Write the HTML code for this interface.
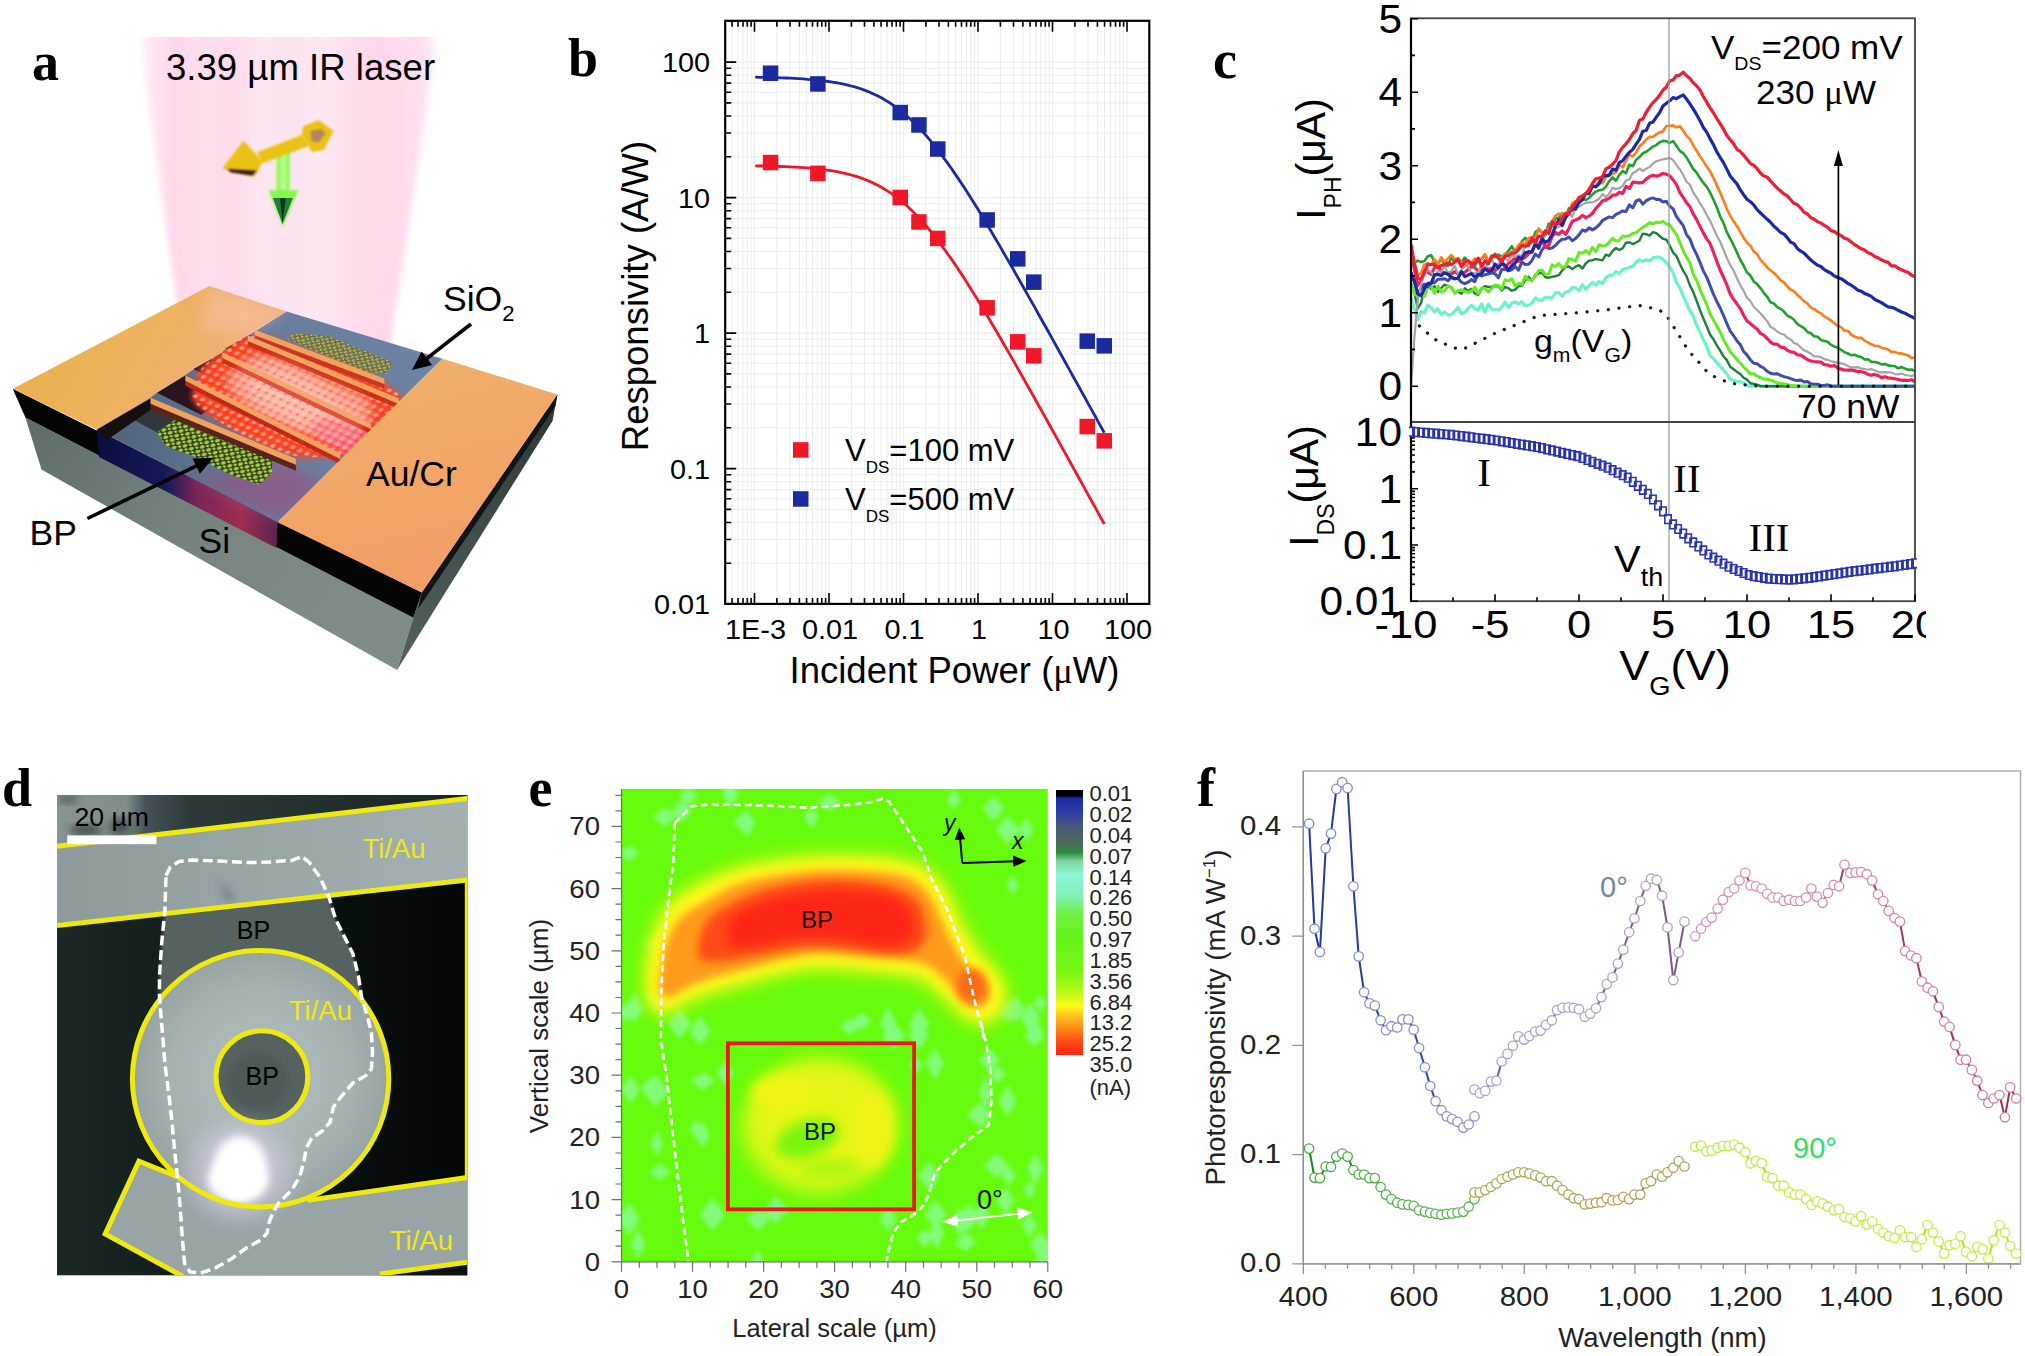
<!DOCTYPE html>
<html><head><meta charset="utf-8"><title>Figure</title>
<style>html,body{margin:0;padding:0;background:#fff;}svg{display:block;}</style>
</head><body>
<svg width="2025" height="1356" viewBox="0 0 2025 1356">
<rect width="2025" height="1356" fill="#fff"/>
<g id="pa">
<defs>
<filter id="ab1" x="-20%" y="-20%" width="140%" height="140%"><feGaussianBlur stdDeviation="7"/></filter>
<filter id="ab2" x="-30%" y="-30%" width="160%" height="160%"><feGaussianBlur stdDeviation="12"/></filter>
<filter id="ab3" x="-20%" y="-20%" width="140%" height="140%"><feGaussianBlur stdDeviation="3"/></filter>
<filter id="ab4" x="-20%" y="-20%" width="140%" height="140%"><feGaussianBlur stdDeviation="1.2"/></filter>
<linearGradient id="beam" x1="0" y1="0" x2="1" y2="0">
<stop offset="0" stop-color="#ffd6ea" stop-opacity="0"/><stop offset="0.05" stop-color="#ffdcee" stop-opacity="0.75"/><stop offset="0.13" stop-color="#ffd6ea"/>
<stop offset="0.22" stop-color="#fddfee"/><stop offset="0.3" stop-color="#ffdaec"/><stop offset="0.42" stop-color="#fce6f1"/><stop offset="0.5" stop-color="#fbe2ef"/>
<stop offset="0.6" stop-color="#fce8f2"/><stop offset="0.7" stop-color="#fddfee"/><stop offset="0.8" stop-color="#ffd6ea"/><stop offset="0.9" stop-color="#ffdcee"/>
<stop offset="0.96" stop-color="#ffd8ec" stop-opacity="0.7"/><stop offset="1" stop-color="#ffd8ec" stop-opacity="0"/></linearGradient>
<linearGradient id="padL" x1="0" y1="0" x2="1" y2="0.3"><stop offset="0" stop-color="#e6b048"/><stop offset="0.45" stop-color="#ecb258"/><stop offset="0.8" stop-color="#f0b070"/><stop offset="1" stop-color="#f2b27c"/></linearGradient>
<linearGradient id="padR" x1="0" y1="0" x2="0.3" y2="1"><stop offset="0" stop-color="#efb26c"/><stop offset="0.5" stop-color="#f1a868"/><stop offset="1" stop-color="#f29e64"/></linearGradient>
<linearGradient id="siF" x1="0" y1="0" x2="1" y2="0.4"><stop offset="0" stop-color="#5e6c6a"/><stop offset="0.45" stop-color="#74827e"/><stop offset="1" stop-color="#808c88"/></linearGradient>
<linearGradient id="siR" x1="0" y1="1" x2="1" y2="0"><stop offset="0" stop-color="#54625f"/><stop offset="1" stop-color="#2c3836"/></linearGradient>
<linearGradient id="sio" x1="0" y1="0" x2="1" y2="0"><stop offset="0" stop-color="#4e6278"/><stop offset="0.5" stop-color="#6a7c9c"/><stop offset="1" stop-color="#6c84a4"/></linearGradient>
<linearGradient id="cband" x1="0" y1="0" x2="1" y2="0"><stop offset="0" stop-color="#0a0f40"/><stop offset="0.38" stop-color="#141a58"/><stop offset="0.55" stop-color="#7a2458"/><stop offset="0.8" stop-color="#a02c50"/><stop offset="1" stop-color="#5a2450"/></linearGradient>
<radialGradient id="glow" cx="0.5" cy="0.5" r="0.5"><stop offset="0" stop-color="#ffc0b0"/><stop offset="0.45" stop-color="#ff8a70"/><stop offset="0.8" stop-color="#ff4a2c"/><stop offset="1" stop-color="#ff3420" stop-opacity="0.0"/></radialGradient>
<pattern id="dotG" width="7" height="6" patternUnits="userSpaceOnUse" patternTransform="rotate(24) skewX(-20)"><rect width="7" height="6" fill="#33401c"/><circle cx="2.2" cy="2.2" r="2.1" fill="#9cd040"/><circle cx="5.6" cy="5.0" r="1.3" fill="#d8e060"/></pattern>
<pattern id="dotO" width="6" height="5" patternUnits="userSpaceOnUse" patternTransform="rotate(22) skewX(-20)"><rect width="6" height="5" fill="#6a6a48"/><circle cx="2" cy="2" r="1.7" fill="#a0b048"/><circle cx="4.8" cy="4.2" r="1" fill="#d8c0a0"/></pattern>
<pattern id="dotR" width="8" height="7" patternUnits="userSpaceOnUse" patternTransform="rotate(24) skewX(-20)"><circle cx="2.5" cy="2.5" r="2.2" fill="#ffd8c8" opacity="0.55"/><circle cx="6.2" cy="5.6" r="1.5" fill="#e83818" opacity="0.55"/></pattern>
</defs>
<clipPath id="cb"><rect x="100" y="37" width="400" height="420"/></clipPath>
<g clip-path="url(#cb)"><polygon points="137,20 440,20 379,420 193,420" fill="url(#beam)" filter="url(#ab3)"/></g>
<polygon points="25.4,417.5 413.3,617.8 397.0,670.0 41.5,469.6" fill="url(#siF)" />
<polygon points="421.8,592.4 557.4,394.5 552.5,421.0 397.0,670.0 413.3,617.8" fill="url(#siR)" />
<polygon points="421.8,592.4 557.4,394.5 555.5,406.0 418.0,609.0" fill="#101414" />
<polygon points="12.7,388.7 421.8,592.4 413.3,617.8 25.4,417.5" fill="#050505" />
<polygon points="96.7,429.4 277.5,522.3 276.5,548.0 99.0,457.0" fill="url(#cband)" />
<polygon points="96.7,429.4 286.6,311.5 442.5,358.7 277.5,522.3" fill="url(#sio)" />
<polygon points="200.0,478.0 290.0,462.0 325.0,486.0 282.0,520.0 236.0,502.0" fill="#9a5080" filter="url(#ab1)" opacity="0.6"/>
<polygon points="292.8,332.7 327.5,335.8 392.0,362.0 388.0,374.0 363.9,372.2 319.6,353.2 288.0,339.0" fill="url(#dotO)" />
<polygon points="156.9,432.2 182.1,414.8 218.5,432.2 272.2,460.7 272.2,473.3 259.6,484.4 231.1,474.9 193.2,455.9 166.3,446.4" fill="url(#dotG)" />
<polygon points="224.8,348.5 250.1,335.0 288.0,350.1 261.2,364.3" fill="#4a1a2c" />
<polygon points="193.2,369.0 223.2,352.4 272.2,375.3 240.6,392.7" fill="#3a1424" />
<polygon points="156.9,392.7 185.3,375.3 231.1,397.5 201.1,414.8" fill="#2a1420" />
<polygon points="130.0,413.3 150.5,399.0 182.1,414.8 156.9,432.2 130.0,418.0" fill="#30383c" />
<polygon points="96.7,429.4 150.5,398.8 159.0,404.0 107.0,440.0" fill="#160e10" />
<path d="M224.8,350.1 C234.0,344.5 239.3,334.2 256.4,335.8 C273.5,337.4 305.9,351.4 327.5,359.5 C349.1,367.7 373.6,377.4 386.0,384.8 C398.4,392.2 402.3,396.9 401.8,403.8 C401.3,410.6 388.6,418.5 382.8,425.9 C377.1,433.3 374.2,443.0 367.0,448.0 C359.9,453.0 352.0,454.6 340.2,455.9 C328.3,457.2 309.9,458.3 295.9,455.9 C282.0,453.6 269.3,447.5 256.4,441.7 C243.5,435.9 229.0,428.0 218.5,421.2 C208.0,414.3 196.9,406.7 193.2,400.6 C189.5,394.6 195.1,390.1 196.4,384.8 C197.7,379.5 196.4,374.8 201.1,369.0 C205.9,363.2 215.6,355.6 224.8,350.1Z" fill="#ff4424" filter="url(#ab3)"/>
<path d="M240.6,364.3 C248.0,359.5 257.7,354.0 272.2,356.4 C286.7,358.7 311.7,371.1 327.5,378.5 C343.3,385.9 361.0,392.7 367.0,400.6 C373.1,408.5 369.1,419.6 363.9,425.9 C358.6,432.2 348.1,438.5 335.4,438.5 C322.8,438.5 302.3,431.2 288.0,425.9 C273.8,420.6 260.1,413.8 250.1,406.9 C240.1,400.1 229.6,391.9 228.0,384.8 C226.4,377.7 233.2,369.0 240.6,364.3Z" fill="#ff9480" filter="url(#ab1)"/>
<ellipse cx="294.3" cy="399.0" rx="50" ry="22" transform="rotate(25 294.3 399.0)" fill="#ffc4b8" filter="url(#ab1)" opacity="0.8"/>
<ellipse cx="343.3" cy="437.0" rx="34" ry="14" transform="rotate(22 343.3 437.0)" fill="#ff6c80" filter="url(#ab3)"/>
<path d="M224.8,350.1 C234.0,344.5 239.3,334.2 256.4,335.8 C273.5,337.4 305.9,351.4 327.5,359.5 C349.1,367.7 373.6,377.4 386.0,384.8 C398.4,392.2 402.3,396.9 401.8,403.8 C401.3,410.6 388.6,418.5 382.8,425.9 C377.1,433.3 374.2,443.0 367.0,448.0 C359.9,453.0 352.0,454.6 340.2,455.9 C328.3,457.2 309.9,458.3 295.9,455.9 C282.0,453.6 269.3,447.5 256.4,441.7 C243.5,435.9 229.0,428.0 218.5,421.2 C208.0,414.3 196.9,406.7 193.2,400.6 C189.5,394.6 195.1,390.1 196.4,384.8 C197.7,379.5 196.4,374.8 201.1,369.0 C205.9,363.2 215.6,355.6 224.8,350.1Z" fill="url(#dotR)"/>
<polygon points="254.8,335.3 384.4,384.0 384.4,389.0 254.8,340.3" fill="#c83820" />
<polygon points="254.8,329.8 384.4,378.5 384.4,384.0 254.8,335.3" fill="#f0a25e" />
<polygon points="247.7,341.0 398.6,403.7 398.6,408.7 247.7,346.0" fill="#d03018" />
<polygon points="247.7,335.5 398.6,398.2 398.6,403.7 247.7,341.0" fill="#f0a25e" />
<polygon points="222.4,357.9 371.0,429.0 371.0,434.0 222.4,362.9" fill="#d02c18" />
<polygon points="222.4,352.4 371.0,423.5 371.0,429.0 222.4,357.9" fill="#f0a25e" />
<polygon points="185.3,380.8 340.2,459.1 340.2,464.1 185.3,385.8" fill="#c02818" />
<polygon points="185.3,375.3 340.2,453.6 340.2,459.1 185.3,380.8" fill="#f0a25e" />
<polygon points="150.5,403.8 295.9,464.8 295.9,470.8 150.5,409.8" fill="#5a2418" />
<polygon points="150.5,397.8 295.9,458.8 295.9,464.8 150.5,403.8" fill="#f0a25e" />
<path d="M240.6,364.3 C248.0,359.5 257.7,354.0 272.2,356.4 C286.7,358.7 311.7,371.1 327.5,378.5 C343.3,385.9 361.0,392.7 367.0,400.6 C373.1,408.5 369.1,419.6 363.9,425.9 C358.6,432.2 348.1,438.5 335.4,438.5 C322.8,438.5 302.3,431.2 288.0,425.9 C273.8,420.6 260.1,413.8 250.1,406.9 C240.1,400.1 229.6,391.9 228.0,384.8 C226.4,377.7 233.2,369.0 240.6,364.3Z" fill="#ffb0a0" opacity="0.28" filter="url(#ab3)"/>
<polygon points="12.7,388.7 209.4,286.1 286.6,311.5 254.8,330.3 224.8,348.5 222.4,352.4 193.2,369.0 185.3,375.3 156.9,392.7 150.5,397.8 130.0,410.1 96.7,429.4" fill="url(#padL)" />
<polygon points="209.4,286.1 286.6,311.5 250.1,335.0 200.0,330.0" fill="#ffd0e0" opacity="0.28" filter="url(#ab1)"/>
<polygon points="442.5,358.7 557.4,394.5 421.8,592.4 277.5,522.3" fill="url(#padR)" />
<polygon points="276.4,151.6 289.8,151.6 289.8,192.9 276.4,192.9" fill="#96fc58" filter="url(#ab4)"/>
<polygon points="281.0,153.7 285.7,153.7 285.7,190.8 281.0,190.8" fill="#b4ff90" filter="url(#ab4)"/>
<polygon points="222.2,168.6 243.4,140.8 263.0,161.4 254.2,176.9" fill="#eac218" filter="url(#ab4)"/>
<polygon points="257.3,152.1 303.2,134.6 308.9,145.9 261.9,163.5" fill="#eac218" filter="url(#ab4)"/>
<polygon points="303.2,126.3 318.7,120.1 333.7,131.0 323.9,150.1 311.5,152.1 301.7,134.1" fill="#eac218" filter="url(#ab4)"/>
<polygon points="310.5,131.0 321.8,128.9 325.4,134.1 318.7,142.3 311.5,141.3" fill="#b48660" filter="url(#ab4)"/>
<polygon points="227.4,169.0 256.8,170.7 252.1,175.6 231.0,172.5" fill="#3a1420" filter="url(#ab4)"/>
<polygon points="268.6,190.3 298.6,190.3 282.6,226.5" fill="#86f84a" filter="url(#ab4)"/>
<polygon points="272.8,198.1 292.9,198.1 282.6,223.9" fill="#227c38" />
<polygon points="280.0,198.1 285.7,198.1 282.6,223.4" fill="#0c3a1c" />
<line x1="87.4" y1="518.5" x2="198.0" y2="465.2" stroke="#000" stroke-width="3.6" />
<polygon points="213.3,457.8 199.9,473.7 192.5,458.4" fill="#000" />
<line x1="471.0" y1="324.0" x2="425.3" y2="359.6" stroke="#000" stroke-width="3.6" />
<polygon points="411.9,370.0 421.7,351.6 432.1,365.0" fill="#000" />
<text transform="translate(166.0 79.5)" font-family="Liberation Sans" font-size="36.6" text-anchor="start" fill="#000" font-weight="normal" font-style="normal" >3.39 µm IR laser</text>
<text transform="translate(443.0 310.7)" font-family="Liberation Sans" font-size="35.5" text-anchor="start" fill="#000" font-weight="normal" font-style="normal" >SiO<tspan font-size="22" dy="10">2</tspan></text>
<text transform="translate(366.0 486.0)" font-family="Liberation Sans" font-size="35.5" text-anchor="start" fill="#000" font-weight="normal" font-style="normal" >Au/Cr</text>
<text transform="translate(29.6 545.2)" font-family="Liberation Sans" font-size="35.5" text-anchor="start" fill="#000" font-weight="normal" font-style="normal" >BP</text>
<text transform="translate(198.5 552.6)" font-family="Liberation Sans" font-size="35.5" text-anchor="start" fill="#000" font-weight="normal" font-style="normal" >Si</text>
<text transform="translate(32.0 80.0)" font-family="Liberation Serif" font-size="54" text-anchor="start" fill="#000" font-weight="bold" font-style="normal" >a</text>
</g>
<g id="pb">
<path d="M732.1,20.8 V603.9 M738.0,20.8 V603.9 M743.0,20.8 V603.9 M747.3,20.8 V603.9 M751.1,20.8 V603.9 M754.5,20.8 V603.9 M776.9,20.8 V603.9 M790.0,20.8 V603.9 M799.4,20.8 V603.9 M806.6,20.8 V603.9 M812.5,20.8 V603.9 M817.5,20.8 V603.9 M821.8,20.8 V603.9 M825.6,20.8 V603.9 M829.0,20.8 V603.9 M851.4,20.8 V603.9 M864.5,20.8 V603.9 M873.9,20.8 V603.9 M881.1,20.8 V603.9 M887.0,20.8 V603.9 M892.0,20.8 V603.9 M896.3,20.8 V603.9 M900.1,20.8 V603.9 M903.5,20.8 V603.9 M925.9,20.8 V603.9 M939.0,20.8 V603.9 M948.4,20.8 V603.9 M955.6,20.8 V603.9 M961.5,20.8 V603.9 M966.5,20.8 V603.9 M970.8,20.8 V603.9 M974.6,20.8 V603.9 M978.0,20.8 V603.9 M1000.4,20.8 V603.9 M1013.5,20.8 V603.9 M1022.9,20.8 V603.9 M1030.1,20.8 V603.9 M1036.0,20.8 V603.9 M1041.0,20.8 V603.9 M1045.3,20.8 V603.9 M1049.1,20.8 V603.9 M1052.5,20.8 V603.9 M1074.9,20.8 V603.9 M1088.0,20.8 V603.9 M1097.4,20.8 V603.9 M1104.6,20.8 V603.9 M1110.5,20.8 V603.9 M1115.5,20.8 V603.9 M1119.8,20.8 V603.9 M1123.6,20.8 V603.9 M1127.0,20.8 V603.9 M725.2,563.3 H1149.3 M725.2,539.5 H1149.3 M725.2,522.5 H1149.3 M725.2,509.4 H1149.3 M725.2,498.7 H1149.3 M725.2,489.6 H1149.3 M725.2,481.7 H1149.3 M725.2,474.8 H1149.3 M725.2,468.6 H1149.3 M725.2,427.8 H1149.3 M725.2,404.0 H1149.3 M725.2,387.0 H1149.3 M725.2,373.9 H1149.3 M725.2,363.2 H1149.3 M725.2,354.1 H1149.3 M725.2,346.2 H1149.3 M725.2,339.3 H1149.3 M725.2,333.1 H1149.3 M725.2,292.3 H1149.3 M725.2,268.5 H1149.3 M725.2,251.5 H1149.3 M725.2,238.4 H1149.3 M725.2,227.7 H1149.3 M725.2,218.6 H1149.3 M725.2,210.7 H1149.3 M725.2,203.8 H1149.3 M725.2,197.6 H1149.3 M725.2,156.8 H1149.3 M725.2,133.0 H1149.3 M725.2,116.0 H1149.3 M725.2,102.9 H1149.3 M725.2,92.2 H1149.3 M725.2,83.1 H1149.3 M725.2,75.2 H1149.3 M725.2,68.3 H1149.3 M725.2,62.1 H1149.3" stroke="#ebeeee" stroke-width="1.1" fill="none"/>
<path d="M732.1,20.8 v6 M732.1,603.9 v-6 M738.0,20.8 v6 M738.0,603.9 v-6 M743.0,20.8 v6 M743.0,603.9 v-6 M747.3,20.8 v6 M747.3,603.9 v-6 M751.1,20.8 v6 M751.1,603.9 v-6 M754.5,20.8 v11 M754.5,603.9 v-11 M776.9,20.8 v6 M776.9,603.9 v-6 M790.0,20.8 v6 M790.0,603.9 v-6 M799.4,20.8 v6 M799.4,603.9 v-6 M806.6,20.8 v6 M806.6,603.9 v-6 M812.5,20.8 v6 M812.5,603.9 v-6 M817.5,20.8 v6 M817.5,603.9 v-6 M821.8,20.8 v6 M821.8,603.9 v-6 M825.6,20.8 v6 M825.6,603.9 v-6 M829.0,20.8 v11 M829.0,603.9 v-11 M851.4,20.8 v6 M851.4,603.9 v-6 M864.5,20.8 v6 M864.5,603.9 v-6 M873.9,20.8 v6 M873.9,603.9 v-6 M881.1,20.8 v6 M881.1,603.9 v-6 M887.0,20.8 v6 M887.0,603.9 v-6 M892.0,20.8 v6 M892.0,603.9 v-6 M896.3,20.8 v6 M896.3,603.9 v-6 M900.1,20.8 v6 M900.1,603.9 v-6 M903.5,20.8 v11 M903.5,603.9 v-11 M925.9,20.8 v6 M925.9,603.9 v-6 M939.0,20.8 v6 M939.0,603.9 v-6 M948.4,20.8 v6 M948.4,603.9 v-6 M955.6,20.8 v6 M955.6,603.9 v-6 M961.5,20.8 v6 M961.5,603.9 v-6 M966.5,20.8 v6 M966.5,603.9 v-6 M970.8,20.8 v6 M970.8,603.9 v-6 M974.6,20.8 v6 M974.6,603.9 v-6 M978.0,20.8 v11 M978.0,603.9 v-11 M1000.4,20.8 v6 M1000.4,603.9 v-6 M1013.5,20.8 v6 M1013.5,603.9 v-6 M1022.9,20.8 v6 M1022.9,603.9 v-6 M1030.1,20.8 v6 M1030.1,603.9 v-6 M1036.0,20.8 v6 M1036.0,603.9 v-6 M1041.0,20.8 v6 M1041.0,603.9 v-6 M1045.3,20.8 v6 M1045.3,603.9 v-6 M1049.1,20.8 v6 M1049.1,603.9 v-6 M1052.5,20.8 v11 M1052.5,603.9 v-11 M1074.9,20.8 v6 M1074.9,603.9 v-6 M1088.0,20.8 v6 M1088.0,603.9 v-6 M1097.4,20.8 v6 M1097.4,603.9 v-6 M1104.6,20.8 v6 M1104.6,603.9 v-6 M1110.5,20.8 v6 M1110.5,603.9 v-6 M1115.5,20.8 v6 M1115.5,603.9 v-6 M1119.8,20.8 v6 M1119.8,603.9 v-6 M1123.6,20.8 v6 M1123.6,603.9 v-6 M1127.0,20.8 v11 M1127.0,603.9 v-11 M725.2,563.3 h6 M725.2,539.5 h6 M725.2,522.5 h6 M725.2,509.4 h6 M725.2,498.7 h6 M725.2,489.6 h6 M725.2,481.7 h6 M725.2,474.8 h6 M725.2,468.6 h11 M725.2,427.8 h6 M725.2,404.0 h6 M725.2,387.0 h6 M725.2,373.9 h6 M725.2,363.2 h6 M725.2,354.1 h6 M725.2,346.2 h6 M725.2,339.3 h6 M725.2,333.1 h11 M725.2,292.3 h6 M725.2,268.5 h6 M725.2,251.5 h6 M725.2,238.4 h6 M725.2,227.7 h6 M725.2,218.6 h6 M725.2,210.7 h6 M725.2,203.8 h6 M725.2,197.6 h11 M725.2,156.8 h6 M725.2,133.0 h6 M725.2,116.0 h6 M725.2,102.9 h6 M725.2,92.2 h6 M725.2,83.1 h6 M725.2,75.2 h6 M725.2,68.3 h6 M725.2,62.1 h11 M725.2,21.3 h6" stroke="#000" stroke-width="1.6" fill="none"/>
<rect x="725.2" y="20.8" width="424.1" height="583.1" fill="none" stroke="#000" stroke-width="2.2"/>
<polyline points="755.2,165.9 759.6,166.0 764.0,166.0 768.3,166.1 772.7,166.3 777.1,166.4 781.4,166.5 785.8,166.7 790.1,166.9 794.5,167.1 798.9,167.4 803.2,167.7 807.6,168.0 812.0,168.4 816.3,168.8 820.7,169.3 825.1,169.8 829.4,170.4 833.8,171.1 838.1,171.9 842.5,172.8 846.9,173.8 851.2,175.0 855.6,176.2 860.0,177.6 864.3,179.2 868.7,181.0 873.0,182.9 877.4,185.1 881.8,187.5 886.1,190.1 890.5,192.9 894.9,196.0 899.2,199.4 903.6,203.0 907.9,206.8 912.3,211.0 916.7,215.4 921.0,220.1 925.4,225.0 929.8,230.2 934.1,235.6 938.5,241.3 942.8,247.1 947.2,253.2 951.6,259.4 955.9,265.8 960.3,272.4 964.7,279.1 969.0,286.0 973.4,292.9 977.8,300.0 982.1,307.2 986.5,314.5 990.8,321.8 995.2,329.2 999.6,336.7 1003.9,344.2 1008.3,351.8 1012.7,359.4 1017.0,367.1 1021.4,374.8 1025.7,382.5 1030.1,390.3 1034.5,398.0 1038.8,405.8 1043.2,413.6 1047.6,421.5 1051.9,429.3 1056.3,437.1 1060.6,445.0 1065.0,452.9 1069.4,460.8 1073.7,468.6 1078.1,476.5 1082.5,484.4 1086.8,492.3 1091.2,500.2 1095.6,508.2 1099.9,516.1 1104.3,524.0" fill="none" stroke="#f01828" stroke-width="2.8" stroke-linejoin="round"/>
<polyline points="755.2,77.2 759.6,77.3 764.0,77.4 768.3,77.5 772.7,77.6 777.1,77.7 781.4,77.9 785.8,78.0 790.1,78.2 794.5,78.4 798.9,78.7 803.2,78.9 807.6,79.3 812.0,79.6 816.3,80.0 820.7,80.5 825.1,81.0 829.4,81.6 833.8,82.3 838.1,83.0 842.5,83.9 846.9,84.9 851.2,86.0 855.6,87.2 860.0,88.5 864.3,90.1 868.7,91.8 873.0,93.7 877.4,95.7 881.8,98.0 886.1,100.6 890.5,103.3 894.9,106.3 899.2,109.6 903.6,113.1 907.9,116.9 912.3,121.0 916.7,125.3 921.0,129.9 925.4,134.8 929.8,139.9 934.1,145.2 938.5,150.8 942.8,156.6 947.2,162.6 951.6,168.7 955.9,175.1 960.3,181.6 964.7,188.3 969.0,195.1 973.4,202.0 977.8,209.1 982.1,216.2 986.5,223.5 990.8,230.8 995.2,238.2 999.6,245.6 1003.9,253.2 1008.3,260.7 1012.7,268.3 1017.0,276.0 1021.4,283.7 1025.7,291.4 1030.1,299.1 1034.5,306.9 1038.8,314.7 1043.2,322.5 1047.6,330.3 1051.9,338.1 1056.3,346.0 1060.6,353.8 1065.0,361.7 1069.4,369.6 1073.7,377.5 1078.1,385.4 1082.5,393.3 1086.8,401.2 1091.2,409.1 1095.6,417.0 1099.9,424.9 1104.3,432.8" fill="none" stroke="#1c2aa0" stroke-width="2.8" stroke-linejoin="round"/>
<rect x="762.8" y="154.8" width="15.5" height="15.5" fill="#f01828"/>
<rect x="810.1" y="165.6" width="15.5" height="15.5" fill="#f01828"/>
<rect x="892.5" y="189.7" width="15.5" height="15.5" fill="#f01828"/>
<rect x="911.2" y="214.2" width="15.5" height="15.5" fill="#f01828"/>
<rect x="930.0" y="230.7" width="15.5" height="15.5" fill="#f01828"/>
<rect x="979.4" y="300.1" width="15.5" height="15.5" fill="#f01828"/>
<rect x="1010.0" y="334.1" width="15.5" height="15.5" fill="#f01828"/>
<rect x="1026.0" y="348.1" width="15.5" height="15.5" fill="#f01828"/>
<rect x="1079.5" y="418.8" width="15.5" height="15.5" fill="#f01828"/>
<rect x="1096.5" y="433.1" width="15.5" height="15.5" fill="#f01828"/>
<rect x="762.8" y="65.5" width="15.5" height="15.5" fill="#1c2aa0"/>
<rect x="810.1" y="76.2" width="15.5" height="15.5" fill="#1c2aa0"/>
<rect x="892.5" y="104.8" width="15.5" height="15.5" fill="#1c2aa0"/>
<rect x="911.2" y="117.2" width="15.5" height="15.5" fill="#1c2aa0"/>
<rect x="930.0" y="141.3" width="15.5" height="15.5" fill="#1c2aa0"/>
<rect x="979.4" y="212.2" width="15.5" height="15.5" fill="#1c2aa0"/>
<rect x="1010.0" y="251.1" width="15.5" height="15.5" fill="#1c2aa0"/>
<rect x="1026.0" y="274.4" width="15.5" height="15.5" fill="#1c2aa0"/>
<rect x="1079.5" y="333.4" width="15.5" height="15.5" fill="#1c2aa0"/>
<rect x="1096.5" y="338.1" width="15.5" height="15.5" fill="#1c2aa0"/>
<text transform="translate(710.0 72.1) scale(1.030 1)" font-family="Liberation Sans" font-size="28" text-anchor="end" fill="#000" font-weight="normal" font-style="normal" >100</text>
<text transform="translate(710.0 207.6) scale(1.030 1)" font-family="Liberation Sans" font-size="28" text-anchor="end" fill="#000" font-weight="normal" font-style="normal" >10</text>
<text transform="translate(710.0 343.1) scale(1.030 1)" font-family="Liberation Sans" font-size="28" text-anchor="end" fill="#000" font-weight="normal" font-style="normal" >1</text>
<text transform="translate(710.0 478.6) scale(1.030 1)" font-family="Liberation Sans" font-size="28" text-anchor="end" fill="#000" font-weight="normal" font-style="normal" >0.1</text>
<text transform="translate(710.0 614.1) scale(1.030 1)" font-family="Liberation Sans" font-size="28" text-anchor="end" fill="#000" font-weight="normal" font-style="normal" >0.01</text>
<text transform="translate(755.5 639.0) scale(1.030 1)" font-family="Liberation Sans" font-size="28" text-anchor="middle" fill="#000" font-weight="normal" font-style="normal" >1E-3</text>
<text transform="translate(830.0 639.0) scale(1.030 1)" font-family="Liberation Sans" font-size="28" text-anchor="middle" fill="#000" font-weight="normal" font-style="normal" >0.01</text>
<text transform="translate(904.5 639.0) scale(1.030 1)" font-family="Liberation Sans" font-size="28" text-anchor="middle" fill="#000" font-weight="normal" font-style="normal" >0.1</text>
<text transform="translate(979.0 639.0) scale(1.030 1)" font-family="Liberation Sans" font-size="28" text-anchor="middle" fill="#000" font-weight="normal" font-style="normal" >1</text>
<text transform="translate(1053.5 639.0) scale(1.030 1)" font-family="Liberation Sans" font-size="28" text-anchor="middle" fill="#000" font-weight="normal" font-style="normal" >10</text>
<text transform="translate(1128.0 639.0) scale(1.030 1)" font-family="Liberation Sans" font-size="28" text-anchor="middle" fill="#000" font-weight="normal" font-style="normal" >100</text>
<text transform="translate(954.5 683.0)" font-family="Liberation Sans" font-size="36.5" text-anchor="middle" fill="#000" font-weight="normal" font-style="normal" >Incident Power (<tspan font-family="Liberation Serif">μ</tspan>W)</text>
<text transform="translate(648.0 296.0) rotate(-90)" font-family="Liberation Sans" font-size="36.5" text-anchor="middle" fill="#000" font-weight="normal" font-style="normal" >Responsivity (A/W)</text>
<rect x="793.0" y="442.2" width="15.5" height="15.5" fill="#f01828"/>
<rect x="793.0" y="491.2" width="15.5" height="15.5" fill="#1c2aa0"/>
<text transform="translate(845.0 460.5)" font-family="Liberation Sans" font-size="31" text-anchor="start" fill="#000" font-weight="normal" font-style="normal" >V<tspan font-size="17" dy="12">DS</tspan><tspan dy="-12">=100 mV</tspan></text>
<text transform="translate(845.0 510.0)" font-family="Liberation Sans" font-size="31" text-anchor="start" fill="#000" font-weight="normal" font-style="normal" >V<tspan font-size="17" dy="12">DS</tspan><tspan dy="-12">=500 mV</tspan></text>
<text transform="translate(568.0 75.5)" font-family="Liberation Serif" font-size="54" text-anchor="start" fill="#000" font-weight="bold" font-style="normal" >b</text>
</g>
<g id="pc">
<clipPath id="cc1"><rect x="1411.0" y="18.3" width="504.0" height="403.7"/></clipPath>
<g clip-path="url(#cc1)">
<polyline points="1411.0,298.0 1414.4,308.9 1417.7,319.7 1421.1,311.3 1424.4,313.1 1427.8,305.0 1431.2,307.8 1434.5,311.9 1437.9,308.8 1441.2,314.5 1444.6,311.9 1448.0,315.1 1451.3,314.7 1454.7,311.3 1458.0,307.2 1461.4,313.7 1464.8,312.6 1468.1,308.5 1471.5,305.2 1474.8,308.5 1478.2,310.0 1481.6,304.0 1484.9,312.3 1488.3,304.1 1491.6,309.0 1495.0,309.9 1498.4,309.6 1501.7,307.3 1505.1,301.9 1508.4,307.4 1511.8,303.1 1515.2,302.0 1518.5,303.9 1521.9,301.7 1525.2,305.7 1528.6,305.1 1532.0,303.2 1535.3,298.0 1538.7,299.9 1542.0,300.4 1545.4,297.2 1548.8,297.6 1552.1,298.1 1555.5,292.5 1558.8,292.6 1562.2,296.0 1565.6,292.0 1568.9,291.6 1572.3,287.4 1575.6,287.9 1579.0,290.6 1582.4,284.7 1585.7,289.2 1589.1,285.9 1592.4,282.4 1595.8,285.1 1599.2,281.6 1602.5,283.3 1605.9,277.7 1609.2,275.5 1612.6,275.2 1616.0,271.6 1619.3,273.7 1622.7,269.6 1626.0,268.6 1629.4,267.1 1632.8,266.4 1636.1,262.2 1639.5,259.9 1642.8,261.4 1646.2,259.7 1649.6,261.0 1652.9,257.8 1656.3,257.0 1659.6,257.2 1663.0,259.3 1666.4,262.8 1669.7,266.7 1673.1,272.8 1676.4,282.2 1679.8,287.7 1683.2,295.9 1686.5,303.2 1689.9,310.8 1693.2,315.7 1696.6,325.1 1700.0,332.4 1703.3,339.7 1706.7,346.3 1710.0,355.5 1713.4,358.7 1716.8,362.6 1720.1,365.9 1723.5,370.1 1726.8,374.1 1730.2,379.3 1733.6,380.2 1736.9,381.6 1740.3,381.7 1743.6,382.8 1747.0,385.7 1750.4,386.2 1753.7,386.2 1757.1,386.2 1760.4,386.2 1763.8,386.2 1767.2,386.2 1770.5,386.2 1773.9,386.2 1777.2,386.2 1780.6,386.2 1784.0,386.2 1787.3,386.2 1790.7,386.2 1794.0,386.2 1797.4,386.2 1800.8,386.2 1804.1,386.2 1807.5,386.2 1810.8,386.2 1814.2,386.2 1817.6,386.2 1820.9,386.2 1824.3,386.2 1827.6,386.2 1831.0,386.2 1834.4,386.2 1837.7,386.2 1841.1,386.2 1844.4,386.2 1847.8,386.2 1851.2,386.2 1854.5,386.2 1857.9,386.2 1861.2,386.2 1864.6,386.2 1868.0,386.2 1871.3,386.2 1874.7,386.2 1878.0,386.2 1881.4,386.2 1884.8,386.2 1888.1,386.2 1891.5,386.2 1894.8,386.2 1898.2,386.2 1901.6,386.2 1904.9,386.2 1908.3,386.2 1911.6,386.2 1915.0,386.2" fill="none" stroke="#6cf2c8" stroke-width="3.2" stroke-linejoin="round"/>
<polyline points="1411.0,287.0 1414.4,293.0 1417.7,308.6 1421.1,303.0 1424.4,287.3 1427.8,284.5 1431.2,289.0 1434.5,286.1 1437.9,291.9 1441.2,288.0 1444.6,284.6 1448.0,286.0 1451.3,287.9 1454.7,292.3 1458.0,291.6 1461.4,293.8 1464.8,288.3 1468.1,290.9 1471.5,288.9 1474.8,293.5 1478.2,294.8 1481.6,288.6 1484.9,286.3 1488.3,287.0 1491.6,286.8 1495.0,286.1 1498.4,286.3 1501.7,290.6 1505.1,287.2 1508.4,288.2 1511.8,290.7 1515.2,289.7 1518.5,286.3 1521.9,285.5 1525.2,280.3 1528.6,276.7 1532.0,280.6 1535.3,274.9 1538.7,273.3 1542.0,272.6 1545.4,277.2 1548.8,277.7 1552.1,276.8 1555.5,276.2 1558.8,275.2 1562.2,270.4 1565.6,266.8 1568.9,266.5 1572.3,269.1 1575.6,266.6 1579.0,265.1 1582.4,268.6 1585.7,263.5 1589.1,260.6 1592.4,260.2 1595.8,259.1 1599.2,259.6 1602.5,260.3 1605.9,254.7 1609.2,255.9 1612.6,251.0 1616.0,248.0 1619.3,250.0 1622.7,248.1 1626.0,242.7 1629.4,242.3 1632.8,244.1 1636.1,242.5 1639.5,240.4 1642.8,233.6 1646.2,234.2 1649.6,235.6 1652.9,232.1 1656.3,233.2 1659.6,236.0 1663.0,238.8 1666.4,239.7 1669.7,245.4 1673.1,252.6 1676.4,255.8 1679.8,263.7 1683.2,270.9 1686.5,276.1 1689.9,285.4 1693.2,291.9 1696.6,300.8 1700.0,310.2 1703.3,318.2 1706.7,326.3 1710.0,334.5 1713.4,339.2 1716.8,345.3 1720.1,350.4 1723.5,356.3 1726.8,360.1 1730.2,366.7 1733.6,369.3 1736.9,371.8 1740.3,374.0 1743.6,377.8 1747.0,379.6 1750.4,383.3 1753.7,383.9 1757.1,384.7 1760.4,386.2 1763.8,386.2 1767.2,386.2 1770.5,386.2 1773.9,386.2 1777.2,386.2 1780.6,386.2 1784.0,386.2 1787.3,386.2 1790.7,386.2 1794.0,386.2 1797.4,386.2 1800.8,386.2 1804.1,386.2 1807.5,386.2 1810.8,386.2 1814.2,386.2 1817.6,386.2 1820.9,386.2 1824.3,386.2 1827.6,386.2 1831.0,386.2 1834.4,386.2 1837.7,386.2 1841.1,386.2 1844.4,386.2 1847.8,386.2 1851.2,386.2 1854.5,386.2 1857.9,386.2 1861.2,386.2 1864.6,386.2 1868.0,386.2 1871.3,386.2 1874.7,386.2 1878.0,386.2 1881.4,386.2 1884.8,386.2 1888.1,386.2 1891.5,386.2 1894.8,386.2 1898.2,386.2 1901.6,386.2 1904.9,386.2 1908.3,386.2 1911.6,386.2 1915.0,386.2" fill="none" stroke="#1f8038" stroke-width="2.4" stroke-linejoin="round"/>
<polyline points="1411.0,283.3 1414.4,294.0 1417.7,295.9 1421.1,294.0 1424.4,296.5 1427.8,287.0 1431.2,286.2 1434.5,293.3 1437.9,286.3 1441.2,291.6 1444.6,290.8 1448.0,285.8 1451.3,287.2 1454.7,293.4 1458.0,290.7 1461.4,289.8 1464.8,291.3 1468.1,292.5 1471.5,291.2 1474.8,287.2 1478.2,293.8 1481.6,288.1 1484.9,288.6 1488.3,292.0 1491.6,288.4 1495.0,285.1 1498.4,285.5 1501.7,289.2 1505.1,279.8 1508.4,281.1 1511.8,278.8 1515.2,286.0 1518.5,283.3 1521.9,284.4 1525.2,276.2 1528.6,280.0 1532.0,280.2 1535.3,276.3 1538.7,270.5 1542.0,270.3 1545.4,274.6 1548.8,273.9 1552.1,264.9 1555.5,266.5 1558.8,263.6 1562.2,267.7 1565.6,266.4 1568.9,258.6 1572.3,259.5 1575.6,261.1 1579.0,252.5 1582.4,253.1 1585.7,250.6 1589.1,254.0 1592.4,247.5 1595.8,251.4 1599.2,244.7 1602.5,246.1 1605.9,245.3 1609.2,242.3 1612.6,238.3 1616.0,241.0 1619.3,240.4 1622.7,236.1 1626.0,236.4 1629.4,235.6 1632.8,233.5 1636.1,232.6 1639.5,229.9 1642.8,227.4 1646.2,225.2 1649.6,222.8 1652.9,223.8 1656.3,222.3 1659.6,222.7 1663.0,221.4 1666.4,224.1 1669.7,224.7 1673.1,229.9 1676.4,234.4 1679.8,242.3 1683.2,250.9 1686.5,257.0 1689.9,263.0 1693.2,274.2 1696.6,280.2 1700.0,289.1 1703.3,297.2 1706.7,304.6 1710.0,313.7 1713.4,319.9 1716.8,326.0 1720.1,331.9 1723.5,339.7 1726.8,345.2 1730.2,352.0 1733.6,355.5 1736.9,359.4 1740.3,363.0 1743.6,367.0 1747.0,370.3 1750.4,373.9 1753.7,373.8 1757.1,376.2 1760.4,377.7 1763.8,379.2 1767.2,379.0 1770.5,380.3 1773.9,381.3 1777.2,382.8 1780.6,383.5 1784.0,384.1 1787.3,384.4 1790.7,385.6 1794.0,385.7 1797.4,386.2 1800.8,386.2 1804.1,386.2 1807.5,386.2 1810.8,386.2 1814.2,386.2 1817.6,386.2 1820.9,386.2 1824.3,386.2 1827.6,386.2 1831.0,386.2 1834.4,386.2 1837.7,386.2 1841.1,386.2 1844.4,386.2 1847.8,386.2 1851.2,386.2 1854.5,386.2 1857.9,386.2 1861.2,386.2 1864.6,386.2 1868.0,386.2 1871.3,386.2 1874.7,386.2 1878.0,386.2 1881.4,386.2 1884.8,386.2 1888.1,386.2 1891.5,386.2 1894.8,386.2 1898.2,386.2 1901.6,386.2 1904.9,386.2 1908.3,386.2 1911.6,386.2 1915.0,386.2" fill="none" stroke="#66ea22" stroke-width="3.0" stroke-linejoin="round"/>
<polyline points="1411.0,275.9 1414.4,281.4 1417.7,293.1 1421.1,288.4 1424.4,284.0 1427.8,286.7 1431.2,282.8 1434.5,282.7 1437.9,279.2 1441.2,279.2 1444.6,278.7 1448.0,280.6 1451.3,277.2 1454.7,278.8 1458.0,278.2 1461.4,282.2 1464.8,283.7 1468.1,282.2 1471.5,279.6 1474.8,281.6 1478.2,274.2 1481.6,276.1 1484.9,274.7 1488.3,274.0 1491.6,272.8 1495.0,273.8 1498.4,277.8 1501.7,269.4 1505.1,269.2 1508.4,270.8 1511.8,269.7 1515.2,266.6 1518.5,270.2 1521.9,261.9 1525.2,264.5 1528.6,264.2 1532.0,260.4 1535.3,254.0 1538.7,257.0 1542.0,249.9 1545.4,245.7 1548.8,248.6 1552.1,248.0 1555.5,245.4 1558.8,241.7 1562.2,239.2 1565.6,239.0 1568.9,237.0 1572.3,240.7 1575.6,238.4 1579.0,234.9 1582.4,230.0 1585.7,231.3 1589.1,227.9 1592.4,229.9 1595.8,227.9 1599.2,224.9 1602.5,220.5 1605.9,218.6 1609.2,216.9 1612.6,217.6 1616.0,214.3 1619.3,212.8 1622.7,210.9 1626.0,211.5 1629.4,204.8 1632.8,207.8 1636.1,201.0 1639.5,199.7 1642.8,204.2 1646.2,200.7 1649.6,198.9 1652.9,197.9 1656.3,199.4 1659.6,199.6 1663.0,201.9 1666.4,201.3 1669.7,206.1 1673.1,208.8 1676.4,216.5 1679.8,221.1 1683.2,225.6 1686.5,234.6 1689.9,238.9 1693.2,247.6 1696.6,254.4 1700.0,262.4 1703.3,270.9 1706.7,277.1 1710.0,285.5 1713.4,294.0 1716.8,301.5 1720.1,307.9 1723.5,315.5 1726.8,323.3 1730.2,331.1 1733.6,335.7 1736.9,340.8 1740.3,344.7 1743.6,351.5 1747.0,354.9 1750.4,359.8 1753.7,363.3 1757.1,363.8 1760.4,366.3 1763.8,368.0 1767.2,371.3 1770.5,373.2 1773.9,374.0 1777.2,373.7 1780.6,375.4 1784.0,376.7 1787.3,377.4 1790.7,378.6 1794.0,379.9 1797.4,380.6 1800.8,380.0 1804.1,382.0 1807.5,381.5 1810.8,383.8 1814.2,384.2 1817.6,384.2 1820.9,385.4 1824.3,385.5 1827.6,384.8 1831.0,386.2 1834.4,386.2 1837.7,386.2 1841.1,386.2 1844.4,386.2 1847.8,386.2 1851.2,386.2 1854.5,386.2 1857.9,386.2 1861.2,386.2 1864.6,386.2 1868.0,386.2 1871.3,386.2 1874.7,386.2 1878.0,386.2 1881.4,386.2 1884.8,386.2 1888.1,386.2 1891.5,386.2 1894.8,386.2 1898.2,386.2 1901.6,386.2 1904.9,386.2 1908.3,386.2 1911.6,386.2 1915.0,386.2" fill="none" stroke="#3f4cb0" stroke-width="3.0" stroke-linejoin="round"/>
<polyline points="1411.0,250.2 1414.4,269.2 1417.7,285.1 1421.1,281.4 1424.4,271.6 1427.8,272.3 1431.2,274.5 1434.5,267.5 1437.9,266.2 1441.2,271.0 1444.6,273.5 1448.0,273.0 1451.3,274.0 1454.7,271.6 1458.0,274.0 1461.4,272.6 1464.8,272.4 1468.1,269.4 1471.5,266.4 1474.8,267.7 1478.2,270.9 1481.6,270.2 1484.9,268.4 1488.3,269.0 1491.6,268.7 1495.0,270.6 1498.4,267.8 1501.7,260.5 1505.1,267.8 1508.4,263.4 1511.8,261.5 1515.2,257.3 1518.5,261.5 1521.9,259.0 1525.2,257.2 1528.6,253.8 1532.0,251.3 1535.3,244.5 1538.7,243.5 1542.0,241.3 1545.4,247.4 1548.8,245.1 1552.1,236.5 1555.5,232.5 1558.8,234.3 1562.2,231.0 1565.6,234.4 1568.9,228.5 1572.3,221.2 1575.6,219.9 1579.0,218.5 1582.4,215.3 1585.7,217.6 1589.1,216.1 1592.4,213.3 1595.8,208.4 1599.2,204.9 1602.5,200.8 1605.9,199.9 1609.2,198.2 1612.6,195.2 1616.0,195.0 1619.3,192.2 1622.7,193.4 1626.0,186.5 1629.4,188.4 1632.8,182.2 1636.1,182.3 1639.5,182.9 1642.8,182.4 1646.2,179.1 1649.6,176.6 1652.9,175.2 1656.3,176.2 1659.6,175.2 1663.0,173.5 1666.4,174.2 1669.7,175.9 1673.1,179.9 1676.4,184.4 1679.8,192.5 1683.2,197.3 1686.5,202.6 1689.9,206.7 1693.2,213.9 1696.6,219.6 1700.0,226.4 1703.3,232.9 1706.7,238.9 1710.0,243.4 1713.4,252.1 1716.8,261.2 1720.1,270.0 1723.5,277.2 1726.8,285.0 1730.2,293.8 1733.6,299.4 1736.9,303.8 1740.3,308.6 1743.6,315.3 1747.0,321.0 1750.4,323.5 1753.7,326.5 1757.1,329.1 1760.4,333.3 1763.8,335.2 1767.2,338.5 1770.5,342.1 1773.9,344.2 1777.2,344.2 1780.6,347.1 1784.0,347.6 1787.3,350.3 1790.7,351.9 1794.0,352.3 1797.4,354.8 1800.8,355.0 1804.1,357.4 1807.5,359.6 1810.8,361.0 1814.2,361.5 1817.6,361.8 1820.9,362.1 1824.3,364.6 1827.6,365.0 1831.0,366.2 1834.4,365.5 1837.7,368.1 1841.1,369.1 1844.4,370.0 1847.8,370.1 1851.2,369.9 1854.5,370.6 1857.9,371.6 1861.2,371.7 1864.6,372.5 1868.0,374.4 1871.3,375.3 1874.7,374.4 1878.0,375.5 1881.4,377.6 1884.8,376.7 1888.1,377.8 1891.5,378.2 1894.8,378.8 1898.2,379.5 1901.6,380.3 1904.9,380.2 1908.3,380.5 1911.6,379.7 1915.0,381.8" fill="none" stroke="#f22058" stroke-width="3.2" stroke-linejoin="round"/>
<polyline points="1411.0,386.2 1414.4,337.7 1417.7,300.8 1421.1,284.3 1424.4,274.5 1427.8,269.2 1431.2,272.5 1434.5,275.7 1437.9,271.2 1441.2,271.7 1444.6,266.1 1448.0,272.9 1451.3,271.1 1454.7,265.8 1458.0,274.0 1461.4,270.2 1464.8,266.2 1468.1,266.5 1471.5,273.3 1474.8,273.2 1478.2,272.8 1481.6,263.5 1484.9,268.7 1488.3,262.9 1491.6,260.4 1495.0,264.6 1498.4,264.2 1501.7,256.5 1505.1,258.7 1508.4,260.9 1511.8,255.5 1515.2,257.1 1518.5,255.3 1521.9,255.7 1525.2,246.3 1528.6,242.6 1532.0,243.1 1535.3,237.9 1538.7,244.5 1542.0,240.3 1545.4,235.8 1548.8,228.4 1552.1,225.7 1555.5,228.5 1558.8,227.0 1562.2,222.6 1565.6,219.3 1568.9,212.4 1572.3,216.8 1575.6,208.2 1579.0,206.8 1582.4,204.4 1585.7,203.0 1589.1,202.3 1592.4,202.4 1595.8,200.7 1599.2,198.7 1602.5,194.1 1605.9,196.8 1609.2,193.8 1612.6,187.9 1616.0,189.1 1619.3,188.1 1622.7,186.1 1626.0,180.4 1629.4,179.6 1632.8,173.0 1636.1,171.4 1639.5,168.5 1642.8,171.0 1646.2,168.7 1649.6,166.9 1652.9,163.6 1656.3,161.1 1659.6,160.3 1663.0,159.3 1666.4,158.7 1669.7,157.9 1673.1,160.2 1676.4,164.8 1679.8,169.3 1683.2,174.9 1686.5,181.8 1689.9,184.8 1693.2,192.5 1696.6,197.3 1700.0,203.3 1703.3,208.3 1706.7,215.0 1710.0,220.6 1713.4,228.1 1716.8,235.7 1720.1,241.7 1723.5,249.8 1726.8,257.8 1730.2,265.1 1733.6,270.5 1736.9,278.1 1740.3,285.3 1743.6,290.8 1747.0,297.7 1750.4,301.0 1753.7,306.8 1757.1,310.0 1760.4,313.3 1763.8,317.2 1767.2,321.1 1770.5,326.9 1773.9,328.7 1777.2,331.5 1780.6,333.7 1784.0,334.5 1787.3,337.7 1790.7,339.4 1794.0,342.9 1797.4,344.3 1800.8,347.5 1804.1,350.3 1807.5,351.6 1810.8,353.7 1814.2,356.4 1817.6,356.4 1820.9,357.3 1824.3,359.1 1827.6,359.8 1831.0,361.2 1834.4,362.1 1837.7,362.9 1841.1,363.2 1844.4,364.1 1847.8,366.0 1851.2,367.4 1854.5,367.3 1857.9,367.1 1861.2,368.7 1864.6,369.0 1868.0,369.8 1871.3,369.2 1874.7,370.3 1878.0,371.8 1881.4,372.3 1884.8,372.2 1888.1,372.3 1891.5,372.5 1894.8,374.1 1898.2,374.4 1901.6,373.7 1904.9,374.8 1908.3,375.5 1911.6,375.9 1915.0,375.0" fill="none" stroke="#a4a4a4" stroke-width="2.2" stroke-linejoin="round"/>
<polyline points="1411.0,261.2 1414.4,263.0 1417.7,260.6 1421.1,262.1 1424.4,261.1 1427.8,256.3 1431.2,255.3 1434.5,261.7 1437.9,263.6 1441.2,258.8 1444.6,264.1 1448.0,266.0 1451.3,257.4 1454.7,262.0 1458.0,258.2 1461.4,262.1 1464.8,257.6 1468.1,261.6 1471.5,264.5 1474.8,265.9 1478.2,260.8 1481.6,258.8 1484.9,255.1 1488.3,261.9 1491.6,255.7 1495.0,257.0 1498.4,254.6 1501.7,256.9 1505.1,254.5 1508.4,251.1 1511.8,246.2 1515.2,252.0 1518.5,246.3 1521.9,241.4 1525.2,237.8 1528.6,243.2 1532.0,241.9 1535.3,232.1 1538.7,229.8 1542.0,232.5 1545.4,234.6 1548.8,223.5 1552.1,225.9 1555.5,218.1 1558.8,218.1 1562.2,213.3 1565.6,216.9 1568.9,208.1 1572.3,210.7 1575.6,206.2 1579.0,200.2 1582.4,198.1 1585.7,200.2 1589.1,197.8 1592.4,194.5 1595.8,191.6 1599.2,190.3 1602.5,189.9 1605.9,186.7 1609.2,181.1 1612.6,177.5 1616.0,180.7 1619.3,174.8 1622.7,171.1 1626.0,173.1 1629.4,164.6 1632.8,166.2 1636.1,159.8 1639.5,157.0 1642.8,153.3 1646.2,151.7 1649.6,149.2 1652.9,146.6 1656.3,145.1 1659.6,142.2 1663.0,140.9 1666.4,141.2 1669.7,143.0 1673.1,141.0 1676.4,145.7 1679.8,150.9 1683.2,153.2 1686.5,157.3 1689.9,163.2 1693.2,169.0 1696.6,172.6 1700.0,178.1 1703.3,182.7 1706.7,186.8 1710.0,192.3 1713.4,199.5 1716.8,207.3 1720.1,216.3 1723.5,223.0 1726.8,232.1 1730.2,238.7 1733.6,245.2 1736.9,252.4 1740.3,260.0 1743.6,265.7 1747.0,272.5 1750.4,275.5 1753.7,281.4 1757.1,284.1 1760.4,288.1 1763.8,292.8 1767.2,296.8 1770.5,302.3 1773.9,303.4 1777.2,307.1 1780.6,308.8 1784.0,311.6 1787.3,315.8 1790.7,317.3 1794.0,319.7 1797.4,324.1 1800.8,326.2 1804.1,328.1 1807.5,332.0 1810.8,333.2 1814.2,336.2 1817.6,336.8 1820.9,339.9 1824.3,340.9 1827.6,341.7 1831.0,344.9 1834.4,346.5 1837.7,347.7 1841.1,349.8 1844.4,352.1 1847.8,353.5 1851.2,355.3 1854.5,354.8 1857.9,356.3 1861.2,357.0 1864.6,359.5 1868.0,359.3 1871.3,361.8 1874.7,362.0 1878.0,362.8 1881.4,364.4 1884.8,364.0 1888.1,365.4 1891.5,366.0 1894.8,366.0 1898.2,368.3 1901.6,367.1 1904.9,368.5 1908.3,369.7 1911.6,369.5 1915.0,371.2" fill="none" stroke="#1fa02c" stroke-width="2.6" stroke-linejoin="round"/>
<polyline points="1411.0,257.6 1414.4,262.1 1417.7,275.2 1421.1,272.9 1424.4,264.6 1427.8,263.3 1431.2,265.2 1434.5,259.2 1437.9,265.3 1441.2,257.3 1444.6,262.1 1448.0,258.4 1451.3,255.2 1454.7,259.0 1458.0,258.2 1461.4,261.6 1464.8,264.5 1468.1,264.2 1471.5,263.1 1474.8,258.7 1478.2,260.4 1481.6,258.7 1484.9,254.1 1488.3,260.4 1491.6,258.6 1495.0,253.5 1498.4,258.6 1501.7,257.8 1505.1,253.5 1508.4,254.9 1511.8,251.6 1515.2,250.7 1518.5,245.0 1521.9,242.8 1525.2,244.2 1528.6,238.0 1532.0,237.2 1535.3,238.3 1538.7,228.4 1542.0,232.8 1545.4,231.5 1548.8,229.1 1552.1,221.0 1555.5,215.8 1558.8,213.7 1562.2,214.4 1565.6,212.8 1568.9,212.3 1572.3,203.3 1575.6,201.1 1579.0,199.8 1582.4,195.2 1585.7,193.9 1589.1,187.9 1592.4,186.6 1595.8,187.2 1599.2,180.2 1602.5,183.3 1605.9,177.4 1609.2,175.5 1612.6,173.9 1616.0,172.4 1619.3,165.0 1622.7,167.3 1626.0,160.7 1629.4,154.6 1632.8,156.4 1636.1,152.5 1639.5,146.3 1642.8,143.4 1646.2,139.5 1649.6,136.7 1652.9,137.0 1656.3,134.4 1659.6,132.4 1663.0,131.2 1666.4,126.0 1669.7,125.8 1673.1,125.4 1676.4,127.4 1679.8,126.1 1683.2,130.7 1686.5,135.9 1689.9,139.1 1693.2,145.3 1696.6,150.8 1700.0,156.2 1703.3,161.1 1706.7,166.6 1710.0,171.2 1713.4,177.8 1716.8,185.4 1720.1,192.6 1723.5,200.3 1726.8,208.7 1730.2,215.6 1733.6,221.3 1736.9,226.0 1740.3,231.9 1743.6,237.9 1747.0,242.6 1750.4,245.9 1753.7,251.4 1757.1,254.1 1760.4,259.8 1763.8,263.3 1767.2,267.4 1770.5,270.3 1773.9,273.0 1777.2,276.4 1780.6,280.3 1784.0,282.3 1787.3,286.5 1790.7,289.7 1794.0,291.4 1797.4,295.0 1800.8,298.0 1804.1,301.1 1807.5,303.5 1810.8,307.6 1814.2,309.1 1817.6,311.6 1820.9,313.4 1824.3,316.5 1827.6,318.1 1831.0,320.6 1834.4,323.4 1837.7,325.8 1841.1,327.1 1844.4,330.5 1847.8,331.0 1851.2,334.7 1854.5,336.5 1857.9,337.9 1861.2,337.8 1864.6,340.5 1868.0,342.5 1871.3,344.3 1874.7,345.8 1878.0,346.0 1881.4,347.7 1884.8,348.6 1888.1,349.6 1891.5,352.0 1894.8,351.9 1898.2,353.4 1901.6,353.5 1904.9,354.5 1908.3,355.4 1911.6,358.1 1915.0,357.5" fill="none" stroke="#ff7a18" stroke-width="2.6" stroke-linejoin="round"/>
<polyline points="1411.0,272.3 1414.4,281.2 1417.7,293.8 1421.1,295.6 1424.4,288.6 1427.8,283.3 1431.2,283.3 1434.5,274.8 1437.9,274.4 1441.2,275.4 1444.6,272.8 1448.0,274.3 1451.3,277.2 1454.7,278.7 1458.0,278.3 1461.4,271.7 1464.8,276.6 1468.1,275.1 1471.5,273.7 1474.8,277.2 1478.2,274.6 1481.6,273.6 1484.9,268.7 1488.3,271.3 1491.6,271.0 1495.0,264.2 1498.4,267.8 1501.7,263.8 1505.1,265.3 1508.4,270.1 1511.8,265.8 1515.2,263.0 1518.5,257.2 1521.9,258.7 1525.2,252.7 1528.6,251.7 1532.0,252.2 1535.3,243.5 1538.7,248.3 1542.0,238.7 1545.4,242.3 1548.8,240.3 1552.1,234.7 1555.5,225.7 1558.8,219.9 1562.2,225.6 1565.6,217.2 1568.9,213.6 1572.3,207.0 1575.6,209.1 1579.0,202.5 1582.4,200.0 1585.7,193.4 1589.1,193.7 1592.4,185.8 1595.8,186.7 1599.2,183.8 1602.5,177.1 1605.9,175.4 1609.2,175.3 1612.6,169.1 1616.0,170.1 1619.3,162.7 1622.7,160.6 1626.0,156.2 1629.4,152.4 1632.8,149.4 1636.1,144.2 1639.5,139.4 1642.8,131.2 1646.2,130.5 1649.6,123.2 1652.9,122.1 1656.3,117.1 1659.6,112.6 1663.0,106.0 1666.4,103.2 1669.7,100.8 1673.1,97.6 1676.4,98.7 1679.8,96.6 1683.2,95.0 1686.5,99.0 1689.9,103.8 1693.2,108.9 1696.6,114.6 1700.0,120.8 1703.3,127.3 1706.7,132.1 1710.0,138.6 1713.4,144.6 1716.8,151.8 1720.1,157.3 1723.5,162.6 1726.8,169.1 1730.2,176.0 1733.6,180.0 1736.9,183.9 1740.3,189.9 1743.6,194.7 1747.0,199.2 1750.4,201.7 1753.7,204.8 1757.1,209.6 1760.4,212.9 1763.8,216.1 1767.2,219.3 1770.5,222.2 1773.9,226.2 1777.2,229.0 1780.6,232.5 1784.0,234.1 1787.3,237.7 1790.7,242.2 1794.0,243.6 1797.4,248.6 1800.8,251.2 1804.1,253.1 1807.5,256.7 1810.8,260.0 1814.2,262.7 1817.6,265.3 1820.9,266.5 1824.3,269.7 1827.6,271.5 1831.0,273.2 1834.4,276.1 1837.7,277.4 1841.1,278.7 1844.4,280.9 1847.8,283.4 1851.2,285.2 1854.5,287.5 1857.9,290.2 1861.2,291.2 1864.6,293.5 1868.0,294.8 1871.3,296.4 1874.7,299.4 1878.0,301.0 1881.4,302.6 1884.8,304.9 1888.1,306.8 1891.5,307.3 1894.8,308.5 1898.2,310.3 1901.6,312.0 1904.9,313.2 1908.3,315.1 1911.6,316.7 1915.0,318.7" fill="none" stroke="#1c28a8" stroke-width="3.2" stroke-linejoin="round"/>
<polyline points="1411.0,244.3 1414.4,263.8 1417.7,278.4 1421.1,279.3 1424.4,272.1 1427.8,264.4 1431.2,264.5 1434.5,264.7 1437.9,267.8 1441.2,265.5 1444.6,264.6 1448.0,262.9 1451.3,264.8 1454.7,262.1 1458.0,259.5 1461.4,266.5 1464.8,261.8 1468.1,260.5 1471.5,264.1 1474.8,263.0 1478.2,258.2 1481.6,266.4 1484.9,260.8 1488.3,263.8 1491.6,257.1 1495.0,254.8 1498.4,258.1 1501.7,261.4 1505.1,256.1 1508.4,255.7 1511.8,253.3 1515.2,253.0 1518.5,249.6 1521.9,245.6 1525.2,246.3 1528.6,245.2 1532.0,237.9 1535.3,242.7 1538.7,236.0 1542.0,236.6 1545.4,230.8 1548.8,233.5 1552.1,221.8 1555.5,224.3 1558.8,223.7 1562.2,218.2 1565.6,213.6 1568.9,213.8 1572.3,206.5 1575.6,203.0 1579.0,197.5 1582.4,196.3 1585.7,193.5 1589.1,190.3 1592.4,183.5 1595.8,178.7 1599.2,178.0 1602.5,176.6 1605.9,168.9 1609.2,167.3 1612.6,164.2 1616.0,160.5 1619.3,151.9 1622.7,147.4 1626.0,143.8 1629.4,139.6 1632.8,133.6 1636.1,130.5 1639.5,120.3 1642.8,119.1 1646.2,112.3 1649.6,107.1 1652.9,102.6 1656.3,99.3 1659.6,95.4 1663.0,90.0 1666.4,87.0 1669.7,80.8 1673.1,80.0 1676.4,75.6 1679.8,75.1 1683.2,72.1 1686.5,75.8 1689.9,78.5 1693.2,82.7 1696.6,85.9 1700.0,90.0 1703.3,96.5 1706.7,102.1 1710.0,107.6 1713.4,112.8 1716.8,118.5 1720.1,123.7 1723.5,129.2 1726.8,135.4 1730.2,139.8 1733.6,143.8 1736.9,149.3 1740.3,151.5 1743.6,155.2 1747.0,159.2 1750.4,163.6 1753.7,165.2 1757.1,168.7 1760.4,173.0 1763.8,176.1 1767.2,177.2 1770.5,180.8 1773.9,184.7 1777.2,188.1 1780.6,191.1 1784.0,193.9 1787.3,195.9 1790.7,199.8 1794.0,203.3 1797.4,204.8 1800.8,208.1 1804.1,212.4 1807.5,214.0 1810.8,217.7 1814.2,219.3 1817.6,221.6 1820.9,223.1 1824.3,225.4 1827.6,227.3 1831.0,230.6 1834.4,231.6 1837.7,234.0 1841.1,235.6 1844.4,238.2 1847.8,239.3 1851.2,242.0 1854.5,244.6 1857.9,246.6 1861.2,248.8 1864.6,250.0 1868.0,252.8 1871.3,254.0 1874.7,256.6 1878.0,257.8 1881.4,259.8 1884.8,261.4 1888.1,262.4 1891.5,265.9 1894.8,265.8 1898.2,268.3 1901.6,269.8 1904.9,271.3 1908.3,272.6 1911.6,275.3 1915.0,276.9" fill="none" stroke="#f01c34" stroke-width="3.2" stroke-linejoin="round"/>
<path d="M1419.4,325.9 C1420.5,326.9 1423.9,329.8 1426.1,331.8 C1428.4,333.8 1430.6,336.0 1432.8,337.7 C1435.1,339.4 1437.3,340.8 1439.6,341.9 C1441.8,343.0 1444.0,343.6 1446.3,344.5 C1448.5,345.3 1450.8,346.2 1453.0,347.0 C1455.2,347.8 1457.5,349.4 1459.7,349.5 C1462.0,349.7 1464.2,348.5 1466.4,347.6 C1468.7,346.8 1470.9,345.4 1473.2,344.3 C1475.4,343.1 1477.6,342.0 1479.9,340.9 C1482.1,339.8 1484.4,338.6 1486.6,337.5 C1488.8,336.4 1491.1,335.2 1493.3,334.1 C1495.6,333.1 1497.8,332.2 1500.0,331.2 C1502.3,330.3 1504.5,329.4 1506.8,328.5 C1509.0,327.6 1511.2,326.7 1513.5,325.8 C1515.7,324.9 1518.0,324.0 1520.2,323.1 C1522.4,322.2 1524.7,321.3 1526.9,320.4 C1529.2,319.5 1531.4,318.5 1533.6,317.7 C1535.9,316.9 1538.1,316.0 1540.4,315.5 C1542.6,315.1 1544.8,315.2 1547.1,315.0 C1549.3,314.9 1551.6,314.7 1553.8,314.5 C1556.0,314.4 1558.3,314.2 1560.5,314.0 C1562.8,313.9 1565.0,313.7 1567.2,313.6 C1569.5,313.4 1571.7,313.2 1574.0,313.1 C1576.2,312.9 1578.4,312.7 1580.7,312.5 C1582.9,312.3 1585.2,312.1 1587.4,311.8 C1589.6,311.6 1591.9,311.4 1594.1,311.1 C1596.4,310.9 1598.6,310.7 1600.8,310.5 C1603.1,310.2 1605.3,310.0 1607.6,309.8 C1609.8,309.5 1612.0,309.1 1614.3,308.8 C1616.5,308.5 1618.8,308.2 1621.0,307.9 C1623.2,307.6 1625.5,307.3 1627.7,307.0 C1630.0,306.7 1632.2,306.3 1634.4,306.0 C1636.7,305.8 1638.9,305.5 1641.2,305.7 C1643.4,305.9 1645.6,306.7 1647.9,307.2 C1650.1,307.7 1652.4,308.0 1654.6,308.7 C1656.8,309.4 1659.1,309.8 1661.3,311.4 C1663.6,312.9 1665.8,315.0 1668.0,317.8 C1670.3,320.7 1672.5,325.0 1674.8,328.6 C1677.0,332.2 1679.2,335.8 1681.5,339.4 C1683.7,343.0 1686.0,347.1 1688.2,350.2 C1690.4,353.2 1692.7,355.2 1694.9,357.8 C1697.2,360.3 1699.4,362.8 1701.6,365.3 C1703.9,367.9 1706.1,371.0 1708.4,372.9 C1710.6,374.8 1712.8,375.8 1715.1,376.9 C1717.3,378.1 1719.6,378.8 1721.8,379.7 C1724.0,380.7 1726.3,381.9 1728.5,382.6 C1730.8,383.2 1733.0,383.5 1735.2,383.8 C1737.5,384.1 1739.7,384.3 1742.0,384.5 C1744.2,384.8 1746.4,385.1 1748.7,385.3 C1750.9,385.5 1753.2,385.6 1755.4,385.7 C1757.6,385.9 1759.9,386.0 1762.1,386.1 C1764.4,386.2 1766.6,386.2 1768.8,386.2 C1771.1,386.2 1773.3,386.2 1775.6,386.2 C1777.8,386.2 1780.0,386.2 1782.3,386.2 C1784.5,386.2 1786.8,386.2 1789.0,386.2 C1791.2,386.2 1793.5,386.2 1795.7,386.2 C1798.0,386.2 1800.2,386.2 1802.4,386.2 C1804.7,386.2 1806.9,386.2 1809.2,386.2 C1811.4,386.2 1813.6,386.2 1815.9,386.2 C1818.1,386.2 1820.4,386.2 1822.6,386.2 C1824.8,386.2 1827.1,386.2 1829.3,386.2 C1831.6,386.2 1833.8,386.2 1836.0,386.2 C1838.3,386.2 1840.5,386.2 1842.8,386.2 C1845.0,386.2 1847.2,386.2 1849.5,386.2 C1851.7,386.2 1854.0,386.2 1856.2,386.2 C1858.4,386.2 1860.7,386.2 1862.9,386.2 C1865.2,386.2 1867.4,386.2 1869.6,386.2 C1871.9,386.2 1874.1,386.2 1876.4,386.2 C1878.6,386.2 1880.8,386.2 1883.1,386.2 C1885.3,386.2 1887.6,386.2 1889.8,386.2 C1892.0,386.2 1894.3,386.2 1896.5,386.2 C1898.8,386.2 1901.0,386.2 1903.2,386.2 C1905.5,386.2 1908.8,386.2 1910.0,386.2" fill="none" stroke="#101838" stroke-width="3.2" stroke-dasharray="0.1 10.6" stroke-linecap="round"/>
</g>
<line x1="1669.0" y1="18.3" x2="1669.0" y2="601.2" stroke="#98a29e" stroke-width="1.3" />
<line x1="1838.4" y1="385.0" x2="1838.4" y2="162.0" stroke="#000" stroke-width="1.7" />
<polygon points="1838.4,150.0 1833.9,166.0 1842.9,166.0" fill="#000" />
<rect x="1411.0" y="18.3" width="504.0" height="403.7" fill="none" stroke="#3c4440" stroke-width="1.8"/>
<rect x="1411.0" y="422.0" width="504.0" height="179.2" fill="none" stroke="#3c4440" stroke-width="1.8"/>
<line x1="1411.0" y1="18.3" x2="1411.0" y2="601.2" stroke="#000" stroke-width="2.2" />
<path d="M1411.0,386.2 h7 M1411.0,312.7 h7 M1411.0,239.2 h7 M1411.0,165.7 h7 M1411.0,92.2 h7 M1411.0,18.7 h7 M1411.0,349.4 h4 M1411.0,275.9 h4 M1411.0,202.4 h4 M1411.0,128.9 h4 M1411.0,55.4 h4 M1411.0,601.2 h7 M1411.0,584.3 h4 M1411.0,574.4 h4 M1411.0,567.4 h4 M1411.0,561.9 h4 M1411.0,557.5 h4 M1411.0,553.7 h4 M1411.0,550.4 h4 M1411.0,547.6 h4 M1411.0,545.0 h7 M1411.0,528.1 h4 M1411.0,518.2 h4 M1411.0,511.2 h4 M1411.0,505.7 h4 M1411.0,501.3 h4 M1411.0,497.5 h4 M1411.0,494.2 h4 M1411.0,491.4 h4 M1411.0,488.8 h7 M1411.0,471.9 h4 M1411.0,462.0 h4 M1411.0,455.0 h4 M1411.0,449.5 h4 M1411.0,445.1 h4 M1411.0,441.3 h4 M1411.0,438.0 h4 M1411.0,435.2 h4 M1411.0,432.6 h7 M1411.0,601.2 v-7 M1495.0,601.2 v-7 M1579.0,601.2 v-7 M1663.0,601.2 v-7 M1747.0,601.2 v-7 M1831.0,601.2 v-7 M1915.0,601.2 v-7 M1453.0,601.2 v-4 M1537.0,601.2 v-4 M1621.0,601.2 v-4 M1705.0,601.2 v-4 M1789.0,601.2 v-4 M1873.0,601.2 v-4" stroke="#000" stroke-width="1.6" fill="none"/>
<clipPath id="cc2"><rect x="1409.0" y="422.0" width="508.0" height="179.20000000000005"/></clipPath>
<path clip-path="url(#cc2)" d="M1407.8,427.4 h6.4 v8.6 h-6.4 z M1412.8,427.8 h6.4 v8.6 h-6.4 z M1417.9,428.2 h6.4 v8.6 h-6.4 z M1422.9,428.6 h6.4 v8.6 h-6.4 z M1428.0,429.0 h6.4 v8.6 h-6.4 z M1433.0,429.4 h6.4 v8.6 h-6.4 z M1438.0,429.8 h6.4 v8.6 h-6.4 z M1443.1,430.2 h6.4 v8.6 h-6.4 z M1448.1,430.6 h6.4 v8.6 h-6.4 z M1453.2,431.2 h6.4 v8.6 h-6.4 z M1458.2,431.8 h6.4 v8.6 h-6.4 z M1463.2,432.4 h6.4 v8.6 h-6.4 z M1468.3,433.0 h6.4 v8.6 h-6.4 z M1473.3,433.7 h6.4 v8.6 h-6.4 z M1478.4,434.3 h6.4 v8.6 h-6.4 z M1483.4,434.9 h6.4 v8.6 h-6.4 z M1488.4,435.5 h6.4 v8.6 h-6.4 z M1493.5,436.2 h6.4 v8.6 h-6.4 z M1498.5,437.0 h6.4 v8.6 h-6.4 z M1503.6,437.8 h6.4 v8.6 h-6.4 z M1508.6,438.7 h6.4 v8.6 h-6.4 z M1513.6,439.5 h6.4 v8.6 h-6.4 z M1518.7,440.3 h6.4 v8.6 h-6.4 z M1523.7,441.1 h6.4 v8.6 h-6.4 z M1528.8,441.9 h6.4 v8.6 h-6.4 z M1533.8,442.7 h6.4 v8.6 h-6.4 z M1538.8,443.8 h6.4 v8.6 h-6.4 z M1543.9,445.0 h6.4 v8.6 h-6.4 z M1548.9,446.1 h6.4 v8.6 h-6.4 z M1554.0,447.3 h6.4 v8.6 h-6.4 z M1559.0,448.5 h6.4 v8.6 h-6.4 z M1564.0,449.6 h6.4 v8.6 h-6.4 z M1569.1,450.8 h6.4 v8.6 h-6.4 z M1574.1,451.9 h6.4 v8.6 h-6.4 z M1579.2,453.6 h6.4 v8.6 h-6.4 z M1584.2,455.6 h6.4 v8.6 h-6.4 z M1589.2,457.5 h6.4 v8.6 h-6.4 z M1594.3,459.5 h6.4 v8.6 h-6.4 z M1599.3,461.4 h6.4 v8.6 h-6.4 z M1604.4,463.4 h6.4 v8.6 h-6.4 z M1609.4,465.9 h6.4 v8.6 h-6.4 z M1614.4,468.4 h6.4 v8.6 h-6.4 z M1619.5,470.9 h6.4 v8.6 h-6.4 z M1624.5,473.4 h6.4 v8.6 h-6.4 z M1629.6,477.5 h6.4 v8.6 h-6.4 z M1634.6,481.5 h6.4 v8.6 h-6.4 z M1639.6,485.5 h6.4 v8.6 h-6.4 z M1644.7,489.6 h6.4 v8.6 h-6.4 z M1649.7,495.2 h6.4 v8.6 h-6.4 z M1654.8,501.0 h6.4 v8.6 h-6.4 z M1659.8,507.0 h6.4 v8.6 h-6.4 z M1664.8,514.9 h6.4 v8.6 h-6.4 z M1669.9,520.1 h6.4 v8.6 h-6.4 z M1674.9,524.7 h6.4 v8.6 h-6.4 z M1680.0,529.3 h6.4 v8.6 h-6.4 z M1685.0,534.0 h6.4 v8.6 h-6.4 z M1690.0,538.1 h6.4 v8.6 h-6.4 z M1695.1,542.1 h6.4 v8.6 h-6.4 z M1700.1,546.1 h6.4 v8.6 h-6.4 z M1705.2,550.2 h6.4 v8.6 h-6.4 z M1710.2,553.4 h6.4 v8.6 h-6.4 z M1715.2,556.4 h6.4 v8.6 h-6.4 z M1720.3,559.4 h6.4 v8.6 h-6.4 z M1725.3,562.4 h6.4 v8.6 h-6.4 z M1730.4,564.7 h6.4 v8.6 h-6.4 z M1735.4,566.7 h6.4 v8.6 h-6.4 z M1740.4,568.7 h6.4 v8.6 h-6.4 z M1745.5,570.7 h6.4 v8.6 h-6.4 z M1750.5,571.9 h6.4 v8.6 h-6.4 z M1755.6,572.7 h6.4 v8.6 h-6.4 z M1760.6,573.5 h6.4 v8.6 h-6.4 z M1765.6,574.3 h6.4 v8.6 h-6.4 z M1770.7,574.7 h6.4 v8.6 h-6.4 z M1775.7,574.9 h6.4 v8.6 h-6.4 z M1780.8,575.1 h6.4 v8.6 h-6.4 z M1785.8,575.3 h6.4 v8.6 h-6.4 z M1790.8,575.0 h6.4 v8.6 h-6.4 z M1795.9,574.5 h6.4 v8.6 h-6.4 z M1800.9,574.0 h6.4 v8.6 h-6.4 z M1806.0,573.5 h6.4 v8.6 h-6.4 z M1811.0,572.8 h6.4 v8.6 h-6.4 z M1816.0,572.1 h6.4 v8.6 h-6.4 z M1821.1,571.3 h6.4 v8.6 h-6.4 z M1826.1,570.6 h6.4 v8.6 h-6.4 z M1831.2,569.8 h6.4 v8.6 h-6.4 z M1836.2,569.1 h6.4 v8.6 h-6.4 z M1841.2,568.3 h6.4 v8.6 h-6.4 z M1846.3,567.5 h6.4 v8.6 h-6.4 z M1851.3,566.9 h6.4 v8.6 h-6.4 z M1856.4,566.3 h6.4 v8.6 h-6.4 z M1861.4,565.7 h6.4 v8.6 h-6.4 z M1866.4,565.1 h6.4 v8.6 h-6.4 z M1871.5,564.4 h6.4 v8.6 h-6.4 z M1876.5,563.8 h6.4 v8.6 h-6.4 z M1881.6,563.2 h6.4 v8.6 h-6.4 z M1886.6,562.6 h6.4 v8.6 h-6.4 z M1891.6,562.0 h6.4 v8.6 h-6.4 z M1896.7,561.2 h6.4 v8.6 h-6.4 z M1901.7,560.5 h6.4 v8.6 h-6.4 z M1906.8,559.8 h6.4 v8.6 h-6.4 z M1911.8,559.0 h6.4 v8.6 h-6.4 z" fill="#fff" stroke="#2a34b0" stroke-width="1.6"/>
<text transform="translate(1402.0 400.2) scale(1.060 1)" font-family="Liberation Sans" font-size="40" text-anchor="end" fill="#000" font-weight="normal" font-style="normal" >0</text>
<text transform="translate(1402.0 326.7) scale(1.060 1)" font-family="Liberation Sans" font-size="40" text-anchor="end" fill="#000" font-weight="normal" font-style="normal" >1</text>
<text transform="translate(1402.0 253.2) scale(1.060 1)" font-family="Liberation Sans" font-size="40" text-anchor="end" fill="#000" font-weight="normal" font-style="normal" >2</text>
<text transform="translate(1402.0 179.7) scale(1.060 1)" font-family="Liberation Sans" font-size="40" text-anchor="end" fill="#000" font-weight="normal" font-style="normal" >3</text>
<text transform="translate(1402.0 106.2) scale(1.060 1)" font-family="Liberation Sans" font-size="40" text-anchor="end" fill="#000" font-weight="normal" font-style="normal" >4</text>
<text transform="translate(1402.0 32.7) scale(1.060 1)" font-family="Liberation Sans" font-size="40" text-anchor="end" fill="#000" font-weight="normal" font-style="normal" >5</text>
<text transform="translate(1402.0 446.4) scale(1.060 1)" font-family="Liberation Sans" font-size="40" text-anchor="end" fill="#000" font-weight="normal" font-style="normal" >10</text>
<text transform="translate(1402.0 502.8) scale(1.060 1)" font-family="Liberation Sans" font-size="40" text-anchor="end" fill="#000" font-weight="normal" font-style="normal" >1</text>
<text transform="translate(1402.0 559.0) scale(1.060 1)" font-family="Liberation Sans" font-size="40" text-anchor="end" fill="#000" font-weight="normal" font-style="normal" >0.1</text>
<text transform="translate(1402.0 615.2) scale(1.060 1)" font-family="Liberation Sans" font-size="40" text-anchor="end" fill="#000" font-weight="normal" font-style="normal" >0.01</text>
<clipPath id="cc3"><rect x="1300" y="600" width="626" height="60"/></clipPath><g clip-path="url(#cc3)">
<text transform="translate(1406.0 637.5) scale(1.100 1)" font-family="Liberation Sans" font-size="39.5" text-anchor="middle" fill="#000" font-weight="normal" font-style="normal" >-10</text>
<text transform="translate(1490.0 637.5) scale(1.100 1)" font-family="Liberation Sans" font-size="39.5" text-anchor="middle" fill="#000" font-weight="normal" font-style="normal" >-5</text>
<text transform="translate(1579.0 637.5) scale(1.100 1)" font-family="Liberation Sans" font-size="39.5" text-anchor="middle" fill="#000" font-weight="normal" font-style="normal" >0</text>
<text transform="translate(1663.0 637.5) scale(1.100 1)" font-family="Liberation Sans" font-size="39.5" text-anchor="middle" fill="#000" font-weight="normal" font-style="normal" >5</text>
<text transform="translate(1747.0 637.5) scale(1.100 1)" font-family="Liberation Sans" font-size="39.5" text-anchor="middle" fill="#000" font-weight="normal" font-style="normal" >10</text>
<text transform="translate(1831.0 637.5) scale(1.100 1)" font-family="Liberation Sans" font-size="39.5" text-anchor="middle" fill="#000" font-weight="normal" font-style="normal" >15</text>
<text transform="translate(1915.0 637.5) scale(1.100 1)" font-family="Liberation Sans" font-size="39.5" text-anchor="middle" fill="#000" font-weight="normal" font-style="normal" >20</text>
</g>
<text transform="translate(1675.0 680.0) scale(1.050 1)" font-family="Liberation Sans" font-size="43" text-anchor="middle" fill="#000" font-weight="normal" font-style="normal" >V<tspan font-size="26" dy="15">G</tspan><tspan dy="-15">(V)</tspan></text>
<text transform="translate(1324.5 159.0) rotate(-90)" font-family="Liberation Sans" font-size="41" text-anchor="middle" fill="#000" font-weight="normal" font-style="normal" >I<tspan font-size="23" dy="16">PH</tspan><tspan dy="-16">(μA)</tspan></text>
<text transform="translate(1318.0 486.0) rotate(-90)" font-family="Liberation Sans" font-size="41" text-anchor="middle" fill="#000" font-weight="normal" font-style="normal" >I<tspan font-size="23" dy="16">DS</tspan><tspan dy="-16">(μA)</tspan></text>
<text transform="translate(1711.0 58.5) scale(1.030 1)" font-family="Liberation Sans" font-size="34" text-anchor="start" fill="#000" font-weight="normal" font-style="normal" >V<tspan font-size="19" dy="11">DS</tspan><tspan dy="-11">=200 mV</tspan></text>
<text transform="translate(1756.0 103.5) scale(1.030 1)" font-family="Liberation Sans" font-size="34" text-anchor="start" fill="#000" font-weight="normal" font-style="normal" >230 <tspan font-family="Liberation Serif">μ</tspan>W</text>
<text transform="translate(1797.0 417.6) scale(1.060 1)" font-family="Liberation Sans" font-size="33.5" text-anchor="start" fill="#000" font-weight="normal" font-style="normal" >70 nW</text>
<text transform="translate(1534.0 352.0) scale(1.060 1)" font-family="Liberation Sans" font-size="32" text-anchor="start" fill="#000" font-weight="normal" font-style="normal" >g<tspan font-size="20" dy="10">m</tspan><tspan dy="-10">(V</tspan><tspan font-size="20" dy="10">G</tspan><tspan dy="-10">)</tspan></text>
<text transform="translate(1614.0 571.5) scale(1.080 1)" font-family="Liberation Sans" font-size="37" text-anchor="start" fill="#000" font-weight="normal" font-style="normal" >V<tspan font-size="25" dy="14">th</tspan></text>
<text transform="translate(1484.0 486.0)" font-family="Liberation Serif" font-size="41" text-anchor="middle" fill="#000" font-weight="normal" font-style="normal" >I</text>
<text transform="translate(1687.0 492.0)" font-family="Liberation Serif" font-size="41" text-anchor="middle" fill="#000" font-weight="normal" font-style="normal" >II</text>
<text transform="translate(1769.0 551.0)" font-family="Liberation Serif" font-size="41" text-anchor="middle" fill="#000" font-weight="normal" font-style="normal" >III</text>
<text transform="translate(1213.0 77.5)" font-family="Liberation Serif" font-size="54" text-anchor="start" fill="#000" font-weight="bold" font-style="normal" >c</text>
</g>
<g id="pd">
<defs>
<filter id="db1" x="-30%" y="-30%" width="160%" height="160%"><feGaussianBlur stdDeviation="10"/></filter>
<filter id="db2" x="-30%" y="-30%" width="160%" height="160%"><feGaussianBlur stdDeviation="4"/></filter>
<filter id="db3" x="-10%" y="-10%" width="120%" height="120%"><feGaussianBlur stdDeviation="1.6"/></filter>
<linearGradient id="dbg" x1="0" y1="0" x2="1" y2="0"><stop offset="0" stop-color="#1c2826"/><stop offset="0.5" stop-color="#0c1614"/><stop offset="1" stop-color="#020706"/></linearGradient>
<linearGradient id="dtop" x1="0" y1="0" x2="1" y2="0"><stop offset="0" stop-color="#889494"/><stop offset="0.17" stop-color="#7e8c8a"/><stop offset="0.215" stop-color="#46545a"/><stop offset="0.32" stop-color="#2c3a3a"/><stop offset="1" stop-color="#182422"/></linearGradient>
<linearGradient id="dbar" x1="0" y1="0" x2="1" y2="0"><stop offset="0" stop-color="#8e9a9c"/><stop offset="0.5" stop-color="#98a6a8"/><stop offset="1" stop-color="#a4b0b2"/></linearGradient>
<radialGradient id="dring" cx="0.5" cy="0.5" r="0.5"><stop offset="0" stop-color="#b4c0c0"/><stop offset="0.7" stop-color="#a6b2b2"/><stop offset="1" stop-color="#98a4a4"/></radialGradient>
</defs>
<clipPath id="cd"><rect x="57.0" y="795.0" width="410.3" height="480.3"/></clipPath>
<rect x="57.0" y="795.0" width="410.3" height="480.3" fill="url(#dbg)"/>
<g clip-path="url(#cd)">
<polygon points="57.0,795.0 467.3,795.0 467.3,798.5 57.0,846.3" fill="url(#dtop)" />
<ellipse cx="86" cy="830" rx="16" ry="5" fill="#34423f" filter="url(#db2)" opacity="0.9"/>
<ellipse cx="120" cy="827" rx="11" ry="8" fill="#3a4846" filter="url(#db2)" opacity="0.85"/>
<ellipse cx="68" cy="799" rx="10" ry="4" fill="#46524f" filter="url(#db2)" opacity="0.9"/>
<polygon points="166.0,875.6 170.4,866.9 179.1,861.5 192.1,860.0 213.8,860.8 246.4,862.6 268.2,862.1 292.1,860.4 301.8,856.5 309.5,862.6 320.3,877.8 329.0,897.3 335.5,919.0 346.4,940.8 352.9,953.8 358.3,975.6 361.6,997.3 368.1,1019.0 371.4,1033.0 372.5,1052.6 371.4,1068.9 365.9,1075.4 352.9,1083.0 339.9,1098.2 333.4,1107.0 330.1,1122.0 322.5,1130.8 311.6,1138.4 306.2,1148.2 304.0,1161.2 299.7,1176.5 292.1,1189.5 279.0,1202.5 273.6,1211.0 269.2,1222.0 267.1,1233.0 261.6,1239.5 246.4,1248.0 231.2,1259.0 213.8,1268.8 200.8,1273.0 189.9,1272.0 184.5,1263.4 182.3,1237.3 179.1,1193.8 174.7,1150.4 170.4,1106.9 164.9,1063.5 161.7,1024.3 159.5,997.3 159.5,975.6 161.7,943.0 164.9,910.4" fill="#56625f" filter="url(#db3)"/>
<polygon points="57.0,846.3 467.3,798.5 467.3,880.0 57.0,925.6" fill="url(#dbar)" />
<path d="M218,880 L228,902 L234,898 Z" fill="#5a6478" filter="url(#db2)" opacity="0.8"/>
<polygon points="138.9,1161.2 105.2,1234.0 181.2,1275.3 467.3,1275.3 467.3,1177.5 307.3,1200.4 250.0,1190.0 176.9,1176.5" fill="#98a4a6" />
<polygon points="380.0,1275.5 467.3,1262.3 467.3,1276.0 380.0,1276.0" fill="#0a1210" />
<circle cx="260.6" cy="1078.7" r="128.2" fill="url(#dring)"/>
<circle cx="261.9" cy="1076.7" r="45.9" fill="#56625f"/>
<circle cx="258" cy="1082" r="30" fill="#4e5a58" filter="url(#db2)"/>
<ellipse cx="240" cy="1172" rx="52" ry="48" fill="#d8d0e8" opacity="0.55" filter="url(#db1)"/>
<ellipse cx="240" cy="1168" rx="27" ry="32" fill="#fff" filter="url(#db2)"/>
<ellipse cx="238" cy="1180" rx="30" ry="22" fill="#fff" filter="url(#db2)"/>
</g>
<g clip-path="url(#cd)">
<line x1="57.0" y1="846.3" x2="467.3" y2="798.5" stroke="#eeea10" stroke-width="5" />
<line x1="57.0" y1="925.6" x2="467.3" y2="880.0" stroke="#eeea10" stroke-width="5" />
<circle cx="260.6" cy="1078.7" r="128.2" fill="none" stroke="#eeea10" stroke-width="5"/>
<circle cx="261.9" cy="1076.7" r="45.9" fill="none" stroke="#eeea10" stroke-width="5"/>
<polyline points="176.9,1176.5 138.9,1161.2 105.2,1234.0 183.0,1276.5" fill="none" stroke="#eeea10" stroke-width="5" stroke-linejoin="miter"/>
<line x1="307.3" y1="1200.4" x2="467.3" y2="1177.5" stroke="#eeea10" stroke-width="5" />
<line x1="380.0" y1="1274.0" x2="467.3" y2="1262.3" stroke="#eeea10" stroke-width="5" />
<line x1="466.3" y1="880.0" x2="466.3" y2="1177.0" stroke="#eeea10" stroke-width="3" />
</g>
<path d="M166.0,875.6 L170.4,866.9 L179.1,861.5 L192.1,860.0 L213.8,860.8 L246.4,862.6 L268.2,862.1 L292.1,860.4 L301.8,856.5 L309.5,862.6 L320.3,877.8 L329.0,897.3 L335.5,919.0 L346.4,940.8 L352.9,953.8 L358.3,975.6 L361.6,997.3 L368.1,1019.0 L371.4,1033.0 L372.5,1052.6 L371.4,1068.9 L365.9,1075.4 L352.9,1083.0 L339.9,1098.2 L333.4,1107.0 L330.1,1122.0 L322.5,1130.8 L311.6,1138.4 L306.2,1148.2 L304.0,1161.2 L299.7,1176.5 L292.1,1189.5 L279.0,1202.5 L273.6,1211.0 L269.2,1222.0 L267.1,1233.0 L261.6,1239.5 L246.4,1248.0 L231.2,1259.0 L213.8,1268.8 L200.8,1273.0 L189.9,1272.0 L184.5,1263.4 L182.3,1237.3 L179.1,1193.8 L174.7,1150.4 L170.4,1106.9 L164.9,1063.5 L161.7,1024.3 L159.5,997.3 L159.5,975.6 L161.7,943.0 L164.9,910.4Z" fill="none" stroke="#fff" stroke-width="3.5" stroke-dasharray="10 4.6" stroke-linejoin="round"/>
<rect x="67.2" y="835.4" width="89.2" height="8.8" fill="#fff"/>
<text transform="translate(74.5 826.0)" font-family="Liberation Sans" font-size="26.6" text-anchor="start" fill="#000" font-weight="normal" font-style="normal" >20 µm</text>
<text transform="translate(362.5 858.2)" font-family="Liberation Sans" font-size="27.5" text-anchor="start" fill="#eeea10" font-weight="normal" font-style="normal" >Ti/Au</text>
<text transform="translate(288.8 1020.1)" font-family="Liberation Sans" font-size="27.5" text-anchor="start" fill="#eeea10" font-weight="normal" font-style="normal" >Ti/Au</text>
<text transform="translate(389.8 1250.3)" font-family="Liberation Sans" font-size="27.5" text-anchor="start" fill="#eeea10" font-weight="normal" font-style="normal" >Ti/Au</text>
<text transform="translate(253.5 938.6)" font-family="Liberation Sans" font-size="25" text-anchor="middle" fill="#000" font-weight="normal" font-style="normal" >BP</text>
<text transform="translate(262.2 1085.2)" font-family="Liberation Sans" font-size="25" text-anchor="middle" fill="#000" font-weight="normal" font-style="normal" >BP</text>
<text transform="translate(2.0 806.0)" font-family="Liberation Serif" font-size="54" text-anchor="start" fill="#000" font-weight="bold" font-style="normal" >d</text>
</g>
<g id="pe">
<defs>
<filter id="eb1" x="-20%" y="-20%" width="140%" height="140%"><feGaussianBlur stdDeviation="9"/></filter>
<filter id="eb2" x="-20%" y="-20%" width="140%" height="140%"><feGaussianBlur stdDeviation="6"/></filter>
<filter id="eb3" x="-20%" y="-20%" width="140%" height="140%"><feGaussianBlur stdDeviation="4"/></filter>
<filter id="eb4" x="-20%" y="-20%" width="140%" height="140%"><feGaussianBlur stdDeviation="2.2"/></filter>
<linearGradient id="cbar" x1="0" y1="0" x2="0" y2="1">
<stop offset="0" stop-color="#000"/><stop offset="0.022" stop-color="#000"/><stop offset="0.03" stop-color="#1c2a9c"/>
<stop offset="0.08" stop-color="#2a3aa8"/><stop offset="0.14" stop-color="#4a5a78"/><stop offset="0.2" stop-color="#4c6a5c"/><stop offset="0.235" stop-color="#2e8a3c"/>
<stop offset="0.27" stop-color="#7cd8a0"/><stop offset="0.32" stop-color="#8cf6d8"/><stop offset="0.40" stop-color="#84f0b8"/><stop offset="0.47" stop-color="#70f040"/>
<stop offset="0.55" stop-color="#62f41a"/><stop offset="0.68" stop-color="#74f614"/><stop offset="0.76" stop-color="#b8f818"/><stop offset="0.815" stop-color="#fdfc18"/>
<stop offset="0.86" stop-color="#ffb820"/><stop offset="0.90" stop-color="#ff8a18"/><stop offset="0.95" stop-color="#ff4a14"/><stop offset="1" stop-color="#fd2414"/>
</linearGradient>
</defs>
<clipPath id="ce"><rect x="621.5" y="788.9" width="426.3" height="472.9"/></clipPath>
<rect x="621.5" y="788.9" width="426.3" height="472.9" fill="#66fb0c"/>
<g clip-path="url(#ce)">
<path d="M1015.5,995.8 L1025.0,1009.1 L1015.5,1022.4 L1005.9,1009.1Z M700.2,1015.8 L710.6,1031.0 L700.2,1046.1 L689.8,1031.0Z M660.2,1163.4 L671.0,1171.8 L660.2,1180.2 L649.3,1171.8Z M1040.2,1231.6 L1050.8,1245.1 L1040.2,1258.7 L1029.6,1245.1Z M688.6,787.5 L698.3,796.0 L688.6,804.5 L678.9,796.0Z M634.3,992.7 L643.4,1008.3 L634.3,1023.9 L625.2,1008.3Z M1046.8,1245.4 L1058.7,1259.8 L1046.8,1274.1 L1034.9,1259.8Z M744.7,810.5 L756.1,822.1 L744.7,833.7 L733.4,822.1Z M1029.9,1179.7 L1035.9,1189.6 L1029.9,1199.5 L1023.9,1189.6Z M1009.5,999.6 L1022.4,1011.2 L1009.5,1022.7 L996.7,1011.2Z M652.6,1076.1 L664.1,1086.6 L652.6,1097.0 L641.2,1086.6Z M658.6,931.4 L671.4,946.2 L658.6,961.0 L645.9,946.2Z M664.6,807.6 L676.2,817.2 L664.6,826.8 L653.0,817.2Z M702.8,1121.2 L709.7,1135.0 L702.8,1148.8 L695.9,1135.0Z M1035.4,1152.9 L1043.5,1168.8 L1035.4,1184.8 L1027.3,1168.8Z M985.7,1075.5 L992.4,1092.4 L985.7,1109.3 L979.0,1092.4Z M747.8,810.4 L754.5,823.6 L747.8,836.9 L741.2,823.6Z M725.1,1061.2 L733.7,1073.2 L725.1,1085.3 L716.5,1073.2Z M1030.4,1001.9 L1040.4,1017.7 L1030.4,1033.5 L1020.4,1017.7Z M1008.8,1165.9 L1016.5,1175.6 L1008.8,1185.3 L1001.0,1175.6Z M936.7,1217.1 L944.1,1233.6 L936.7,1250.2 L929.3,1233.6Z M997.6,1065.4 L1006.5,1074.3 L997.6,1083.2 L988.6,1074.3Z M638.0,1229.8 L645.7,1244.2 L638.0,1258.5 L630.3,1244.2Z M696.3,1119.5 L702.8,1129.6 L696.3,1139.6 L689.8,1129.6Z M1012.6,874.9 L1018.7,885.4 L1012.6,895.8 L1006.5,885.4Z M811.5,806.2 L818.7,817.5 L811.5,828.8 L804.3,817.5Z M775.9,1196.3 L788.7,1210.2 L775.9,1224.1 L763.0,1210.2Z M916.2,1057.0 L923.2,1065.3 L916.2,1073.6 L909.2,1065.3Z M629.1,1202.7 L640.0,1219.3 L629.1,1236.0 L618.2,1219.3Z M630.6,1075.2 L639.9,1089.8 L630.6,1104.3 L621.2,1089.8Z M757.4,1248.6 L764.0,1261.5 L757.4,1274.4 L750.9,1261.5Z M935.7,1200.3 L946.8,1214.6 L935.7,1228.9 L924.5,1214.6Z M959.7,1207.4 L968.1,1221.6 L959.7,1235.8 L951.2,1221.6Z M1005.5,1185.7 L1014.4,1200.8 L1005.5,1216.0 L996.6,1200.8Z M989.6,1048.3 L1000.0,1059.8 L989.6,1071.2 L979.2,1059.8Z M655.7,1075.4 L668.6,1091.3 L655.7,1107.2 L642.7,1091.3Z M934.8,1048.1 L943.9,1063.6 L934.8,1079.2 L925.8,1063.6Z M657.2,1130.3 L663.4,1143.7 L657.2,1157.1 L651.0,1143.7Z M919.2,1007.8 L929.5,1024.0 L919.2,1040.3 L908.9,1024.0Z M730.6,780.1 L738.7,794.2 L730.6,808.4 L722.5,794.2Z M1007.6,1085.0 L1016.7,1101.0 L1007.6,1117.0 L998.5,1101.0Z M965.1,1209.8 L977.3,1221.2 L965.1,1232.7 L952.9,1221.2Z M679.6,1008.0 L691.4,1023.7 L679.6,1039.3 L667.7,1023.7Z M924.7,1228.6 L932.6,1238.2 L924.7,1247.7 L916.8,1238.2Z M888.3,1006.9 L896.5,1022.5 L888.3,1038.0 L880.0,1022.5Z M1040.1,994.6 L1046.7,1002.9 L1040.1,1011.2 L1033.6,1002.9Z M993.6,795.4 L1004.5,808.5 L993.6,821.7 L982.6,808.5Z M629.6,844.9 L638.8,853.2 L629.6,861.4 L620.5,853.2Z M681.6,799.1 L692.0,811.1 L681.6,823.1 L671.2,811.1Z M965.7,1232.4 L976.5,1242.2 L965.7,1252.0 L954.9,1242.2Z M626.1,1002.6 L637.1,1012.2 L626.1,1021.8 L615.1,1012.2Z M918.8,1020.2 L929.1,1035.0 L918.8,1049.8 L908.5,1035.0Z M1007.8,815.6 L1020.4,830.1 L1007.8,844.6 L995.3,830.1Z M888.2,1206.1 L896.8,1219.2 L888.2,1232.3 L879.5,1219.2Z M996.4,1153.5 L1009.0,1165.7 L996.4,1177.9 L983.7,1165.7Z M929.3,1161.4 L939.8,1175.9 L929.3,1190.4 L918.8,1175.9Z M712.4,1197.7 L725.3,1214.5 L712.4,1231.3 L699.6,1214.5Z M758.1,1208.1 L770.1,1219.2 L758.1,1230.4 L746.1,1219.2Z M656.8,982.5 L666.6,997.4 L656.8,1012.3 L646.9,997.4Z M829.3,793.8 L841.0,802.3 L829.3,810.9 L817.6,802.3Z M979.6,1102.5 L992.2,1114.9 L979.6,1127.3 L967.0,1114.9Z M1026.1,816.8 L1033.7,829.6 L1026.1,842.3 L1018.6,829.6Z M893.9,1023.1 L905.8,1036.1 L893.9,1049.2 L881.9,1036.1Z M981.8,1199.1 L989.3,1214.8 L981.8,1230.4 L974.4,1214.8Z M1034.3,1027.0 L1044.4,1036.8 L1034.3,1046.6 L1024.3,1036.8Z M850.0,1018.6 L860.2,1026.9 L850.0,1035.1 L839.7,1026.9Z M1034.8,1017.7 L1043.6,1032.9 L1034.8,1048.1 L1026.0,1032.9Z M861.5,1012.5 L872.3,1021.1 L861.5,1029.7 L850.6,1021.1Z M1029.4,1213.3 L1037.3,1225.6 L1029.4,1237.8 L1021.5,1225.6Z M969.2,1203.9 L978.6,1214.8 L969.2,1225.6 L959.9,1214.8Z M703.1,1071.9 L715.6,1081.1 L703.1,1090.3 L690.6,1081.1Z M953.7,789.6 L961.1,799.7 L953.7,809.7 L946.4,799.7Z" fill="#9cfcd6" opacity="0.55" filter="url(#eb4)"/>
<path d="M649.8,984.6 C649.6,974.7 650.7,957.9 653.9,945.9 C657.2,933.9 662.9,921.5 669.1,912.7 C675.4,904.0 679.7,900.1 691.3,893.4 C702.8,886.7 718.9,877.9 738.3,872.6 C757.6,867.3 784.4,863.4 807.4,861.6 C830.5,859.7 858.1,860.2 876.5,861.6 C895.0,863.0 907.2,865.0 918.0,869.9 C928.9,874.7 935.1,881.6 941.5,890.6 C948.0,899.6 951.4,913.7 956.7,923.8 C962.0,933.9 966.7,942.2 973.3,951.5 C980.0,960.7 992.3,970.8 996.8,979.1 C1001.4,987.4 1001.8,994.9 1000.4,1001.2 C999.1,1007.6 994.0,1015.1 988.6,1017.3 C983.1,1019.5 975.0,1018.6 967.8,1014.5 C960.7,1010.5 954.0,999.8 945.7,992.9 C937.4,986.1 931.9,978.0 918.0,973.6 C904.2,969.2 881.2,968.1 862.7,966.7 C844.3,965.2 828.2,962.4 807.4,964.7 C786.7,967.0 756.7,975.8 738.3,980.5 C719.8,985.2 708.3,988.6 696.8,992.9 C685.3,997.3 676.1,1004.7 669.1,1006.8 C662.1,1008.8 658.0,1009.1 654.8,1005.4 C651.5,1001.7 649.9,994.6 649.8,984.6Z" fill="#d8f818" filter="url(#eb1)" stroke="#d8f818" stroke-width="14"/>
<path d="M649.8,984.6 C649.6,974.7 650.7,957.9 653.9,945.9 C657.2,933.9 662.9,921.5 669.1,912.7 C675.4,904.0 679.7,900.1 691.3,893.4 C702.8,886.7 718.9,877.9 738.3,872.6 C757.6,867.3 784.4,863.4 807.4,861.6 C830.5,859.7 858.1,860.2 876.5,861.6 C895.0,863.0 907.2,865.0 918.0,869.9 C928.9,874.7 935.1,881.6 941.5,890.6 C948.0,899.6 951.4,913.7 956.7,923.8 C962.0,933.9 966.7,942.2 973.3,951.5 C980.0,960.7 992.3,970.8 996.8,979.1 C1001.4,987.4 1001.8,994.9 1000.4,1001.2 C999.1,1007.6 994.0,1015.1 988.6,1017.3 C983.1,1019.5 975.0,1018.6 967.8,1014.5 C960.7,1010.5 954.0,999.8 945.7,992.9 C937.4,986.1 931.9,978.0 918.0,973.6 C904.2,969.2 881.2,968.1 862.7,966.7 C844.3,965.2 828.2,962.4 807.4,964.7 C786.7,967.0 756.7,975.8 738.3,980.5 C719.8,985.2 708.3,988.6 696.8,992.9 C685.3,997.3 676.1,1004.7 669.1,1006.8 C662.1,1008.8 658.0,1009.1 654.8,1005.4 C651.5,1001.7 649.9,994.6 649.8,984.6Z" fill="#fff81a" filter="url(#eb2)"/>
<path d="M659.5,983.3 C660.1,975.0 661.5,956.8 665.0,945.9 C668.4,935.1 673.5,925.6 680.2,918.3 C686.9,910.9 694.5,907.7 705.1,901.7 C715.7,895.7 726.3,887.4 743.8,882.3 C761.3,877.3 788.1,873.0 810.2,871.3 C832.3,869.5 859.5,870.4 876.5,871.8 C893.6,873.2 903.3,875.0 912.5,879.6 C921.7,884.1 926.3,890.6 931.9,898.9 C937.4,907.2 940.6,919.2 945.7,929.3 C950.8,939.5 955.6,950.8 962.3,959.8 C969.0,968.7 981.4,976.8 985.8,983.3 C990.2,989.7 989.5,994.6 988.6,998.5 C987.6,1002.4 984.2,1006.1 980.3,1006.8 C976.3,1007.5 970.6,1006.8 965.0,1002.6 C959.5,998.5 954.4,988.5 947.1,981.9 C939.7,975.3 934.9,967.2 920.8,963.1 C906.7,958.9 881.6,958.4 862.7,957.0 C843.8,955.6 827.2,952.7 807.4,954.8 C787.6,956.9 761.8,964.9 743.8,969.4 C725.8,974.0 711.5,977.5 699.6,981.9 C687.6,986.3 678.3,993.4 671.9,995.7 C665.5,998.0 663.5,997.8 661.4,995.7 C659.3,993.6 658.9,991.6 659.5,983.3Z" fill="#ff9a1c" filter="url(#eb3)"/>
<path d="M698.2,951.5 C698.2,945.2 700.7,931.2 705.1,923.8 C709.5,916.4 714.3,913.0 724.4,907.2 C734.6,901.5 749.8,893.8 765.9,889.2 C782.1,884.7 802.8,881.2 821.2,880.1 C839.7,879.1 861.3,880.2 876.5,882.9 C891.8,885.5 904.4,890.3 912.5,896.2 C920.6,902.1 923.1,910.4 924.9,918.3 C926.8,926.1 927.9,937.2 923.6,943.2 C919.2,949.2 911.1,953.2 898.7,954.2 C886.2,955.2 863.6,950.4 848.9,949.2 C834.1,948.1 824.0,946.6 810.2,947.3 C796.3,948.0 778.8,951.6 765.9,953.7 C753.0,955.7 742.9,958.5 732.7,959.8 C722.6,961.0 710.8,962.5 705.1,961.1 C699.3,959.8 698.2,957.7 698.2,951.5Z" fill="#ff4a18" filter="url(#eb3)"/>
<path d="M730.0,943.2 C726.3,938.6 726.8,925.2 732.7,918.3 C738.7,911.4 751.2,906.3 765.9,901.7 C780.7,897.1 802.8,892.0 821.2,890.6 C839.7,889.2 862.3,890.6 876.5,893.4 C890.8,896.2 901.0,900.3 907.0,907.2 C913.0,914.1 915.7,928.4 912.5,934.9 C909.3,941.3 900.5,945.2 887.6,945.9 C874.7,946.6 850.7,940.2 835.1,939.0 C819.4,937.9 807.0,937.9 793.6,939.0 C780.2,940.2 765.5,945.2 754.9,945.9 C744.3,946.6 733.7,947.8 730.0,943.2Z" fill="#fe2814" filter="url(#eb3)"/>
<ellipse cx="972.0" cy="986.0" rx="15" ry="17" fill="#fa6a18" filter="url(#eb3)"/>
<ellipse cx="820" cy="1126" rx="78" ry="68" fill="#d0f814" filter="url(#eb1)"/>
<ellipse cx="822" cy="1118" rx="66" ry="50" fill="#e6f616" filter="url(#eb1)"/>
<ellipse cx="872" cy="1130" rx="20" ry="38" fill="#f0f418" filter="url(#eb2)"/>
<ellipse cx="782" cy="1092" rx="30" ry="16" fill="#f2f418" filter="url(#eb2)"/>
<ellipse cx="808" cy="1139" rx="33" ry="18" fill="#78f60e" filter="url(#eb2)" transform="rotate(-18 806 1140)"/>
<ellipse cx="830" cy="1168" rx="30" ry="10" fill="#a8f610" filter="url(#eb2)" opacity="0.8"/>
</g>
<rect x="727.9" y="1043.3" width="186.2" height="166" fill="none" stroke="#ee1622" stroke-width="3.8"/>
<polyline points="674.7,822.9 691.3,806.3 710.6,804.3 765.9,805.4 807.4,807.7 848.9,804.9 871.0,802.1 882.1,798.8 889.0,801.6 904.2,824.2 922.2,851.9 931.9,879.6 948.5,912.7 965.0,957.0 973.3,995.7 984.4,1040.0 980.3,1020.0 985.8,1042.1 990.5,1069.8 991.3,1103.0 988.6,1125.1 973.3,1136.2 956.7,1150.0 942.9,1163.8 934.6,1173.5 930.5,1188.7 924.9,1203.9 915.3,1213.6 901.4,1221.9 893.1,1232.9 889.0,1249.5 886.2,1262.0" fill="none" stroke="#fff" stroke-width="2.6" stroke-dasharray="7 4" stroke-linejoin="round"/>
<polyline points="674.7,822.9 673.3,863.0 667.8,904.4 663.6,945.9 661.4,987.4 660.8,1040.0 666.4,1075.3 672.5,1130.6 678.8,1185.9 685.7,1241.2 688.5,1262.0" fill="none" stroke="#fff" stroke-width="2.6" stroke-dasharray="7 4"/>
<line x1="962.3" y1="863.0" x2="959.8" y2="836.0" stroke="#000" stroke-width="2" />
<line x1="962.3" y1="863.0" x2="1016.0" y2="861.3" stroke="#000" stroke-width="2" />
<polygon points="959.3,827.5 954.6,840.0 965.2,839.2" fill="#000" />
<polygon points="1026.5,861.0 1013.0,855.5 1013.4,866.8" fill="#000" />
<text transform="translate(944.0 831.0)" font-family="Liberation Sans" font-size="23" text-anchor="start" fill="#111" font-weight="normal" font-style="italic" >y</text>
<text transform="translate(1012.0 849.0)" font-family="Liberation Sans" font-size="23" text-anchor="start" fill="#111" font-weight="normal" font-style="italic" >x</text>
<line x1="950.0" y1="1221.2" x2="1025.0" y2="1213.0" stroke="#fff" stroke-width="2" />
<polygon points="942.5,1222.0 957.0,1214.5 958.0,1226.5" fill="#fff" />
<polygon points="1032.5,1212.2 1017.0,1207.6 1018.4,1219.8" fill="#fff" />
<text transform="translate(977.0 1209.0)" font-family="Liberation Sans" font-size="27" text-anchor="start" fill="#111" font-weight="normal" font-style="normal" >0°</text>
<text transform="translate(817.0 928.0)" font-family="Liberation Sans" font-size="24" text-anchor="middle" fill="#111" font-weight="normal" font-style="normal" >BP</text>
<text transform="translate(820.0 1139.5)" font-family="Liberation Sans" font-size="24" text-anchor="middle" fill="#111" font-weight="normal" font-style="normal" >BP</text>
<line x1="621.5" y1="788.9" x2="621.5" y2="1261.8" stroke="#6c726e" stroke-width="1.2" />
<line x1="621.5" y1="1261.8" x2="1047.8" y2="1261.8" stroke="#6c726e" stroke-width="1.2" />
<path d="M621.5,1261.8 h-10 M621.5,1246.2 h-6 M621.5,1230.7 h-6 M621.5,1215.1 h-6 M621.5,1199.6 h-10 M621.5,1184.0 h-6 M621.5,1168.5 h-6 M621.5,1153.0 h-6 M621.5,1137.4 h-10 M621.5,1121.8 h-6 M621.5,1106.3 h-6 M621.5,1090.8 h-6 M621.5,1075.2 h-10 M621.5,1059.6 h-6 M621.5,1044.1 h-6 M621.5,1028.5 h-6 M621.5,1013.0 h-10 M621.5,997.5 h-6 M621.5,981.9 h-6 M621.5,966.3 h-6 M621.5,950.8 h-10 M621.5,935.2 h-6 M621.5,919.7 h-6 M621.5,904.1 h-6 M621.5,888.6 h-10 M621.5,873.0 h-6 M621.5,857.5 h-6 M621.5,842.0 h-6 M621.5,826.4 h-10 M621.5,810.8 h-6 M621.5,795.3 h-6 M621.5,1261.8 v10 M639.3,1261.8 v6 M657.0,1261.8 v6 M674.8,1261.8 v6 M692.5,1261.8 v10 M710.3,1261.8 v6 M728.1,1261.8 v6 M745.8,1261.8 v6 M763.6,1261.8 v10 M781.4,1261.8 v6 M799.1,1261.8 v6 M816.9,1261.8 v6 M834.6,1261.8 v10 M852.4,1261.8 v6 M870.2,1261.8 v6 M887.9,1261.8 v6 M905.7,1261.8 v10 M923.5,1261.8 v6 M941.2,1261.8 v6 M959.0,1261.8 v6 M976.8,1261.8 v10 M994.5,1261.8 v6 M1012.3,1261.8 v6 M1030.0,1261.8 v6 M1047.8,1261.8 v10" stroke="#6c726e" stroke-width="1.2" fill="none"/>
<text transform="translate(600.0 1270.8) scale(1.060 1)" font-family="Liberation Sans" font-size="26" text-anchor="end" fill="#222" font-weight="normal" font-style="normal" >0</text>
<text transform="translate(600.0 1208.6) scale(1.060 1)" font-family="Liberation Sans" font-size="26" text-anchor="end" fill="#222" font-weight="normal" font-style="normal" >10</text>
<text transform="translate(600.0 1146.4) scale(1.060 1)" font-family="Liberation Sans" font-size="26" text-anchor="end" fill="#222" font-weight="normal" font-style="normal" >20</text>
<text transform="translate(600.0 1084.2) scale(1.060 1)" font-family="Liberation Sans" font-size="26" text-anchor="end" fill="#222" font-weight="normal" font-style="normal" >30</text>
<text transform="translate(600.0 1022.0) scale(1.060 1)" font-family="Liberation Sans" font-size="26" text-anchor="end" fill="#222" font-weight="normal" font-style="normal" >40</text>
<text transform="translate(600.0 959.8) scale(1.060 1)" font-family="Liberation Sans" font-size="26" text-anchor="end" fill="#222" font-weight="normal" font-style="normal" >50</text>
<text transform="translate(600.0 897.6) scale(1.060 1)" font-family="Liberation Sans" font-size="26" text-anchor="end" fill="#222" font-weight="normal" font-style="normal" >60</text>
<text transform="translate(600.0 835.4) scale(1.060 1)" font-family="Liberation Sans" font-size="26" text-anchor="end" fill="#222" font-weight="normal" font-style="normal" >70</text>
<text transform="translate(621.5 1297.5) scale(1.060 1)" font-family="Liberation Sans" font-size="26" text-anchor="middle" fill="#222" font-weight="normal" font-style="normal" >0</text>
<text transform="translate(692.5 1297.5) scale(1.060 1)" font-family="Liberation Sans" font-size="26" text-anchor="middle" fill="#222" font-weight="normal" font-style="normal" >10</text>
<text transform="translate(763.6 1297.5) scale(1.060 1)" font-family="Liberation Sans" font-size="26" text-anchor="middle" fill="#222" font-weight="normal" font-style="normal" >20</text>
<text transform="translate(834.6 1297.5) scale(1.060 1)" font-family="Liberation Sans" font-size="26" text-anchor="middle" fill="#222" font-weight="normal" font-style="normal" >30</text>
<text transform="translate(905.7 1297.5) scale(1.060 1)" font-family="Liberation Sans" font-size="26" text-anchor="middle" fill="#222" font-weight="normal" font-style="normal" >40</text>
<text transform="translate(976.8 1297.5) scale(1.060 1)" font-family="Liberation Sans" font-size="26" text-anchor="middle" fill="#222" font-weight="normal" font-style="normal" >50</text>
<text transform="translate(1047.8 1297.5) scale(1.060 1)" font-family="Liberation Sans" font-size="26" text-anchor="middle" fill="#222" font-weight="normal" font-style="normal" >60</text>
<text transform="translate(834.5 1337.0)" font-family="Liberation Sans" font-size="25.5" text-anchor="middle" fill="#222" font-weight="normal" font-style="normal" >Lateral scale (µm)</text>
<text transform="translate(548.0 1026.0) rotate(-90)" font-family="Liberation Sans" font-size="26" text-anchor="middle" fill="#222" font-weight="normal" font-style="normal" >Vertical scale (µm)</text>
<rect x="1056" y="790" width="27" height="265" fill="url(#cbar)"/>
<text transform="translate(1089.5 801.3)" font-family="Liberation Sans" font-size="22" text-anchor="start" fill="#222" font-weight="normal" font-style="normal" >0.01</text>
<text transform="translate(1089.5 822.1)" font-family="Liberation Sans" font-size="22" text-anchor="start" fill="#222" font-weight="normal" font-style="normal" >0.02</text>
<text transform="translate(1089.5 843.0)" font-family="Liberation Sans" font-size="22" text-anchor="start" fill="#222" font-weight="normal" font-style="normal" >0.04</text>
<text transform="translate(1089.5 863.8)" font-family="Liberation Sans" font-size="22" text-anchor="start" fill="#222" font-weight="normal" font-style="normal" >0.07</text>
<text transform="translate(1089.5 884.6)" font-family="Liberation Sans" font-size="22" text-anchor="start" fill="#222" font-weight="normal" font-style="normal" >0.14</text>
<text transform="translate(1089.5 905.4)" font-family="Liberation Sans" font-size="22" text-anchor="start" fill="#222" font-weight="normal" font-style="normal" >0.26</text>
<text transform="translate(1089.5 926.3)" font-family="Liberation Sans" font-size="22" text-anchor="start" fill="#222" font-weight="normal" font-style="normal" >0.50</text>
<text transform="translate(1089.5 947.1)" font-family="Liberation Sans" font-size="22" text-anchor="start" fill="#222" font-weight="normal" font-style="normal" >0.97</text>
<text transform="translate(1089.5 967.9)" font-family="Liberation Sans" font-size="22" text-anchor="start" fill="#222" font-weight="normal" font-style="normal" >1.85</text>
<text transform="translate(1089.5 988.8)" font-family="Liberation Sans" font-size="22" text-anchor="start" fill="#222" font-weight="normal" font-style="normal" >3.56</text>
<text transform="translate(1089.5 1009.6)" font-family="Liberation Sans" font-size="22" text-anchor="start" fill="#222" font-weight="normal" font-style="normal" >6.84</text>
<text transform="translate(1089.5 1030.4)" font-family="Liberation Sans" font-size="22" text-anchor="start" fill="#222" font-weight="normal" font-style="normal" >13.2</text>
<text transform="translate(1089.5 1051.3)" font-family="Liberation Sans" font-size="22" text-anchor="start" fill="#222" font-weight="normal" font-style="normal" >25.2</text>
<text transform="translate(1089.5 1072.1)" font-family="Liberation Sans" font-size="22" text-anchor="start" fill="#222" font-weight="normal" font-style="normal" >35.0</text>
<text transform="translate(1089.5 1094.9)" font-family="Liberation Sans" font-size="22" text-anchor="start" fill="#222" font-weight="normal" font-style="normal" >(nA)</text>
<text transform="translate(528.5 806.0)" font-family="Liberation Serif" font-size="54" text-anchor="start" fill="#000" font-weight="bold" font-style="normal" >e</text>
</g>
<g id="pf">
<rect x="1303.3" y="771.0" width="717.2" height="492.9" fill="#fff" stroke="#a9b0aa" stroke-width="1.5"/>
<clipPath id="cf"><rect x="1295.3" y="769.0" width="729.7" height="502.9"/></clipPath><g clip-path="url(#cf)">
<line x1="1309.1" y1="1148.6" x2="1314.5" y2="1177.6" stroke="#0f8a1c" stroke-width="2.0" />
<line x1="1314.5" y1="1177.6" x2="1319.9" y2="1178.1" stroke="#0f8a1c" stroke-width="2.0" />
<line x1="1319.9" y1="1178.1" x2="1325.7" y2="1166.5" stroke="#108b1c" stroke-width="2.0" />
<line x1="1325.7" y1="1166.5" x2="1331.0" y2="1166.9" stroke="#118b1d" stroke-width="2.0" />
<line x1="1331.0" y1="1166.9" x2="1336.4" y2="1156.6" stroke="#128c1d" stroke-width="2.0" />
<line x1="1336.4" y1="1156.6" x2="1342.2" y2="1153.5" stroke="#138c1e" stroke-width="2.0" />
<line x1="1342.2" y1="1153.5" x2="1347.6" y2="1156.6" stroke="#148d1e" stroke-width="2.0" />
<line x1="1347.6" y1="1156.6" x2="1353.4" y2="1170.0" stroke="#158d1e" stroke-width="2.0" />
<line x1="1353.4" y1="1170.0" x2="1358.7" y2="1174.5" stroke="#168e1f" stroke-width="2.0" />
<line x1="1358.7" y1="1174.5" x2="1364.1" y2="1174.5" stroke="#178e1f" stroke-width="2.0" />
<line x1="1364.1" y1="1174.5" x2="1369.5" y2="1178.1" stroke="#188f20" stroke-width="2.0" />
<line x1="1369.5" y1="1178.1" x2="1374.8" y2="1178.1" stroke="#188f20" stroke-width="2.0" />
<line x1="1374.8" y1="1178.1" x2="1380.6" y2="1187.0" stroke="#199020" stroke-width="2.0" />
<line x1="1380.6" y1="1187.0" x2="1386.0" y2="1194.6" stroke="#1a9021" stroke-width="2.0" />
<line x1="1386.0" y1="1194.6" x2="1391.4" y2="1199.1" stroke="#1b9121" stroke-width="2.0" />
<line x1="1391.4" y1="1199.1" x2="1397.2" y2="1202.7" stroke="#1c9222" stroke-width="2.0" />
<line x1="1397.2" y1="1202.7" x2="1402.5" y2="1204.4" stroke="#1d9222" stroke-width="2.0" />
<line x1="1402.5" y1="1204.4" x2="1408.3" y2="1204.9" stroke="#1e9322" stroke-width="2.0" />
<line x1="1408.3" y1="1204.9" x2="1413.7" y2="1205.8" stroke="#1f9323" stroke-width="2.0" />
<line x1="1413.7" y1="1205.8" x2="1419.1" y2="1210.3" stroke="#209423" stroke-width="2.0" />
<line x1="1419.1" y1="1210.3" x2="1424.9" y2="1211.6" stroke="#219424" stroke-width="2.0" />
<line x1="1424.9" y1="1211.6" x2="1430.2" y2="1212.9" stroke="#219524" stroke-width="2.0" />
<line x1="1430.2" y1="1212.9" x2="1435.6" y2="1213.8" stroke="#229524" stroke-width="2.0" />
<line x1="1435.6" y1="1213.8" x2="1441.4" y2="1214.7" stroke="#239625" stroke-width="2.0" />
<line x1="1441.4" y1="1214.7" x2="1446.8" y2="1213.8" stroke="#249625" stroke-width="2.0" />
<line x1="1446.8" y1="1213.8" x2="1452.1" y2="1213.4" stroke="#259726" stroke-width="2.0" />
<line x1="1452.1" y1="1213.4" x2="1457.5" y2="1212.5" stroke="#269726" stroke-width="2.0" />
<line x1="1457.5" y1="1212.5" x2="1463.3" y2="1211.6" stroke="#279826" stroke-width="2.0" />
<line x1="1463.3" y1="1211.6" x2="1468.7" y2="1206.7" stroke="#289827" stroke-width="2.0" />
<line x1="1468.7" y1="1206.7" x2="1474.5" y2="1199.1" stroke="#299927" stroke-width="2.0" />
<circle cx="1309.1" cy="1148.6" r="4.7" fill="#fff" stroke="#3fae3c" stroke-width="1.3"/>
<circle cx="1314.5" cy="1177.6" r="4.7" fill="#fff" stroke="#3fae3c" stroke-width="1.3"/>
<circle cx="1319.9" cy="1178.1" r="4.7" fill="#fff" stroke="#40ae3c" stroke-width="1.3"/>
<circle cx="1325.7" cy="1166.5" r="4.7" fill="#fff" stroke="#41af3d" stroke-width="1.3"/>
<circle cx="1331.0" cy="1166.9" r="4.7" fill="#fff" stroke="#42af3d" stroke-width="1.3"/>
<circle cx="1336.4" cy="1156.6" r="4.7" fill="#fff" stroke="#43af3e" stroke-width="1.3"/>
<circle cx="1342.2" cy="1153.5" r="4.7" fill="#fff" stroke="#44b03e" stroke-width="1.3"/>
<circle cx="1347.6" cy="1156.6" r="4.7" fill="#fff" stroke="#44b03e" stroke-width="1.3"/>
<circle cx="1353.4" cy="1170.0" r="4.7" fill="#fff" stroke="#45b03f" stroke-width="1.3"/>
<circle cx="1358.7" cy="1174.5" r="4.7" fill="#fff" stroke="#46b13f" stroke-width="1.3"/>
<circle cx="1364.1" cy="1174.5" r="4.7" fill="#fff" stroke="#47b140" stroke-width="1.3"/>
<circle cx="1369.5" cy="1178.1" r="4.7" fill="#fff" stroke="#48b140" stroke-width="1.3"/>
<circle cx="1374.8" cy="1178.1" r="4.7" fill="#fff" stroke="#49b240" stroke-width="1.3"/>
<circle cx="1380.6" cy="1187.0" r="4.7" fill="#fff" stroke="#49b241" stroke-width="1.3"/>
<circle cx="1386.0" cy="1194.6" r="4.7" fill="#fff" stroke="#4ab241" stroke-width="1.3"/>
<circle cx="1391.4" cy="1199.1" r="4.7" fill="#fff" stroke="#4bb342" stroke-width="1.3"/>
<circle cx="1397.2" cy="1202.7" r="4.7" fill="#fff" stroke="#4cb342" stroke-width="1.3"/>
<circle cx="1402.5" cy="1204.4" r="4.7" fill="#fff" stroke="#4db342" stroke-width="1.3"/>
<circle cx="1408.3" cy="1204.9" r="4.7" fill="#fff" stroke="#4eb443" stroke-width="1.3"/>
<circle cx="1413.7" cy="1205.8" r="4.7" fill="#fff" stroke="#4eb443" stroke-width="1.3"/>
<circle cx="1419.1" cy="1210.3" r="4.7" fill="#fff" stroke="#4fb444" stroke-width="1.3"/>
<circle cx="1424.9" cy="1211.6" r="4.7" fill="#fff" stroke="#50b544" stroke-width="1.3"/>
<circle cx="1430.2" cy="1212.9" r="4.7" fill="#fff" stroke="#51b544" stroke-width="1.3"/>
<circle cx="1435.6" cy="1213.8" r="4.7" fill="#fff" stroke="#52b545" stroke-width="1.3"/>
<circle cx="1441.4" cy="1214.7" r="4.7" fill="#fff" stroke="#53b645" stroke-width="1.3"/>
<circle cx="1446.8" cy="1213.8" r="4.7" fill="#fff" stroke="#53b646" stroke-width="1.3"/>
<circle cx="1452.1" cy="1213.4" r="4.7" fill="#fff" stroke="#54b646" stroke-width="1.3"/>
<circle cx="1457.5" cy="1212.5" r="4.7" fill="#fff" stroke="#55b746" stroke-width="1.3"/>
<circle cx="1463.3" cy="1211.6" r="4.7" fill="#fff" stroke="#56b747" stroke-width="1.3"/>
<circle cx="1468.7" cy="1206.7" r="4.7" fill="#fff" stroke="#57b747" stroke-width="1.3"/>
<circle cx="1474.5" cy="1199.1" r="4.7" fill="#fff" stroke="#58b848" stroke-width="1.3"/>
<line x1="1474.5" y1="1192.4" x2="1479.8" y2="1192.4" stroke="#7a8a30" stroke-width="2.0" />
<line x1="1479.8" y1="1192.4" x2="1485.2" y2="1190.1" stroke="#7a8930" stroke-width="2.0" />
<line x1="1485.2" y1="1190.1" x2="1491.0" y2="1187.0" stroke="#7b8930" stroke-width="2.0" />
<line x1="1491.0" y1="1187.0" x2="1496.4" y2="1183.4" stroke="#7c8930" stroke-width="2.0" />
<line x1="1496.4" y1="1183.4" x2="1501.7" y2="1179.0" stroke="#7d8930" stroke-width="2.0" />
<line x1="1501.7" y1="1179.0" x2="1507.5" y2="1176.7" stroke="#7e8831" stroke-width="2.0" />
<line x1="1507.5" y1="1176.7" x2="1512.9" y2="1174.5" stroke="#7f8831" stroke-width="2.0" />
<line x1="1512.9" y1="1174.5" x2="1518.3" y2="1172.3" stroke="#7f8831" stroke-width="2.0" />
<line x1="1518.3" y1="1172.3" x2="1524.1" y2="1172.3" stroke="#808831" stroke-width="2.0" />
<line x1="1524.1" y1="1172.3" x2="1529.4" y2="1173.6" stroke="#818831" stroke-width="2.0" />
<line x1="1529.4" y1="1173.6" x2="1535.2" y2="1175.4" stroke="#828732" stroke-width="2.0" />
<line x1="1535.2" y1="1175.4" x2="1540.6" y2="1177.6" stroke="#838732" stroke-width="2.0" />
<line x1="1540.6" y1="1177.6" x2="1546.0" y2="1181.2" stroke="#848732" stroke-width="2.0" />
<line x1="1546.0" y1="1181.2" x2="1551.8" y2="1181.2" stroke="#848732" stroke-width="2.0" />
<line x1="1551.8" y1="1181.2" x2="1557.1" y2="1185.7" stroke="#858732" stroke-width="2.0" />
<line x1="1557.1" y1="1185.7" x2="1562.5" y2="1190.1" stroke="#868633" stroke-width="2.0" />
<line x1="1562.5" y1="1190.1" x2="1568.3" y2="1194.6" stroke="#878633" stroke-width="2.0" />
<line x1="1568.3" y1="1194.6" x2="1573.7" y2="1198.2" stroke="#888633" stroke-width="2.0" />
<line x1="1573.7" y1="1198.2" x2="1579.0" y2="1199.1" stroke="#898633" stroke-width="2.0" />
<line x1="1579.0" y1="1199.1" x2="1584.8" y2="1204.4" stroke="#8a8634" stroke-width="2.0" />
<line x1="1584.8" y1="1204.4" x2="1590.2" y2="1203.6" stroke="#8a8534" stroke-width="2.0" />
<line x1="1590.2" y1="1203.6" x2="1596.0" y2="1202.7" stroke="#8b8534" stroke-width="2.0" />
<line x1="1596.0" y1="1202.7" x2="1601.4" y2="1202.2" stroke="#8c8534" stroke-width="2.0" />
<line x1="1601.4" y1="1202.2" x2="1606.7" y2="1198.2" stroke="#8d8534" stroke-width="2.0" />
<line x1="1606.7" y1="1198.2" x2="1612.5" y2="1200.4" stroke="#8e8435" stroke-width="2.0" />
<line x1="1612.5" y1="1200.4" x2="1617.9" y2="1200.0" stroke="#8f8435" stroke-width="2.0" />
<line x1="1617.9" y1="1200.0" x2="1623.3" y2="1196.8" stroke="#8f8435" stroke-width="2.0" />
<line x1="1623.3" y1="1196.8" x2="1629.1" y2="1199.1" stroke="#908435" stroke-width="2.0" />
<line x1="1629.1" y1="1199.1" x2="1634.4" y2="1194.6" stroke="#918435" stroke-width="2.0" />
<line x1="1634.4" y1="1194.6" x2="1640.3" y2="1194.6" stroke="#928336" stroke-width="2.0" />
<line x1="1640.3" y1="1194.6" x2="1645.6" y2="1183.4" stroke="#938336" stroke-width="2.0" />
<line x1="1645.6" y1="1183.4" x2="1651.0" y2="1181.2" stroke="#948336" stroke-width="2.0" />
<line x1="1651.0" y1="1181.2" x2="1656.8" y2="1174.5" stroke="#948336" stroke-width="2.0" />
<line x1="1656.8" y1="1174.5" x2="1662.1" y2="1176.7" stroke="#958336" stroke-width="2.0" />
<line x1="1662.1" y1="1176.7" x2="1667.5" y2="1172.3" stroke="#968237" stroke-width="2.0" />
<line x1="1667.5" y1="1172.3" x2="1673.3" y2="1167.8" stroke="#978237" stroke-width="2.0" />
<line x1="1673.3" y1="1167.8" x2="1678.7" y2="1161.1" stroke="#988237" stroke-width="2.0" />
<line x1="1678.7" y1="1161.1" x2="1684.5" y2="1166.5" stroke="#998237" stroke-width="2.0" />
<circle cx="1474.5" cy="1192.4" r="4.7" fill="#fff" stroke="#a8a850" stroke-width="1.3"/>
<circle cx="1479.8" cy="1192.4" r="4.7" fill="#fff" stroke="#a8a750" stroke-width="1.3"/>
<circle cx="1485.2" cy="1190.1" r="4.7" fill="#fff" stroke="#a8a750" stroke-width="1.3"/>
<circle cx="1491.0" cy="1187.0" r="4.7" fill="#fff" stroke="#a9a750" stroke-width="1.3"/>
<circle cx="1496.4" cy="1183.4" r="4.7" fill="#fff" stroke="#a9a650" stroke-width="1.3"/>
<circle cx="1501.7" cy="1179.0" r="4.7" fill="#fff" stroke="#aaa651" stroke-width="1.3"/>
<circle cx="1507.5" cy="1176.7" r="4.7" fill="#fff" stroke="#aaa651" stroke-width="1.3"/>
<circle cx="1512.9" cy="1174.5" r="4.7" fill="#fff" stroke="#aaa551" stroke-width="1.3"/>
<circle cx="1518.3" cy="1172.3" r="4.7" fill="#fff" stroke="#aba551" stroke-width="1.3"/>
<circle cx="1524.1" cy="1172.3" r="4.7" fill="#fff" stroke="#aba551" stroke-width="1.3"/>
<circle cx="1529.4" cy="1173.6" r="4.7" fill="#fff" stroke="#aca452" stroke-width="1.3"/>
<circle cx="1535.2" cy="1175.4" r="4.7" fill="#fff" stroke="#aca452" stroke-width="1.3"/>
<circle cx="1540.6" cy="1177.6" r="4.7" fill="#fff" stroke="#ada452" stroke-width="1.3"/>
<circle cx="1546.0" cy="1181.2" r="4.7" fill="#fff" stroke="#ada352" stroke-width="1.3"/>
<circle cx="1551.8" cy="1181.2" r="4.7" fill="#fff" stroke="#ada352" stroke-width="1.3"/>
<circle cx="1557.1" cy="1185.7" r="4.7" fill="#fff" stroke="#aea353" stroke-width="1.3"/>
<circle cx="1562.5" cy="1190.1" r="4.7" fill="#fff" stroke="#aea253" stroke-width="1.3"/>
<circle cx="1568.3" cy="1194.6" r="4.7" fill="#fff" stroke="#afa253" stroke-width="1.3"/>
<circle cx="1573.7" cy="1198.2" r="4.7" fill="#fff" stroke="#afa253" stroke-width="1.3"/>
<circle cx="1579.0" cy="1199.1" r="4.7" fill="#fff" stroke="#b0a254" stroke-width="1.3"/>
<circle cx="1584.8" cy="1204.4" r="4.7" fill="#fff" stroke="#b0a154" stroke-width="1.3"/>
<circle cx="1590.2" cy="1203.6" r="4.7" fill="#fff" stroke="#b0a154" stroke-width="1.3"/>
<circle cx="1596.0" cy="1202.7" r="4.7" fill="#fff" stroke="#b1a154" stroke-width="1.3"/>
<circle cx="1601.4" cy="1202.2" r="4.7" fill="#fff" stroke="#b1a054" stroke-width="1.3"/>
<circle cx="1606.7" cy="1198.2" r="4.7" fill="#fff" stroke="#b2a055" stroke-width="1.3"/>
<circle cx="1612.5" cy="1200.4" r="4.7" fill="#fff" stroke="#b2a055" stroke-width="1.3"/>
<circle cx="1617.9" cy="1200.0" r="4.7" fill="#fff" stroke="#b29f55" stroke-width="1.3"/>
<circle cx="1623.3" cy="1196.8" r="4.7" fill="#fff" stroke="#b39f55" stroke-width="1.3"/>
<circle cx="1629.1" cy="1199.1" r="4.7" fill="#fff" stroke="#b39f55" stroke-width="1.3"/>
<circle cx="1634.4" cy="1194.6" r="4.7" fill="#fff" stroke="#b49e56" stroke-width="1.3"/>
<circle cx="1640.3" cy="1194.6" r="4.7" fill="#fff" stroke="#b49e56" stroke-width="1.3"/>
<circle cx="1645.6" cy="1183.4" r="4.7" fill="#fff" stroke="#b59e56" stroke-width="1.3"/>
<circle cx="1651.0" cy="1181.2" r="4.7" fill="#fff" stroke="#b59d56" stroke-width="1.3"/>
<circle cx="1656.8" cy="1174.5" r="4.7" fill="#fff" stroke="#b59d56" stroke-width="1.3"/>
<circle cx="1662.1" cy="1176.7" r="4.7" fill="#fff" stroke="#b69d57" stroke-width="1.3"/>
<circle cx="1667.5" cy="1172.3" r="4.7" fill="#fff" stroke="#b69c57" stroke-width="1.3"/>
<circle cx="1673.3" cy="1167.8" r="4.7" fill="#fff" stroke="#b79c57" stroke-width="1.3"/>
<circle cx="1678.7" cy="1161.1" r="4.7" fill="#fff" stroke="#b79c57" stroke-width="1.3"/>
<circle cx="1684.5" cy="1166.5" r="4.7" fill="#fff" stroke="#b89c58" stroke-width="1.3"/>
<line x1="1695.2" y1="1146.8" x2="1701.0" y2="1145.5" stroke="#a8dc20" stroke-width="2.0" />
<line x1="1701.0" y1="1145.5" x2="1706.4" y2="1151.3" stroke="#a8dc20" stroke-width="2.0" />
<line x1="1706.4" y1="1151.3" x2="1711.7" y2="1150.4" stroke="#a8dc20" stroke-width="2.0" />
<line x1="1711.7" y1="1150.4" x2="1717.6" y2="1147.7" stroke="#a8dc20" stroke-width="2.0" />
<line x1="1717.6" y1="1147.7" x2="1722.9" y2="1145.9" stroke="#a8dc20" stroke-width="2.0" />
<line x1="1722.9" y1="1145.9" x2="1728.7" y2="1145.9" stroke="#a9dc20" stroke-width="2.0" />
<line x1="1728.7" y1="1145.9" x2="1734.1" y2="1144.6" stroke="#a9dc20" stroke-width="2.0" />
<line x1="1734.1" y1="1144.6" x2="1739.5" y2="1147.7" stroke="#a9dc20" stroke-width="2.0" />
<line x1="1739.5" y1="1147.7" x2="1745.3" y2="1152.2" stroke="#a9dd21" stroke-width="2.0" />
<line x1="1745.3" y1="1152.2" x2="1750.6" y2="1163.3" stroke="#a9dd21" stroke-width="2.0" />
<line x1="1750.6" y1="1163.3" x2="1756.0" y2="1161.1" stroke="#aadd21" stroke-width="2.0" />
<line x1="1756.0" y1="1161.1" x2="1761.8" y2="1163.3" stroke="#aadd21" stroke-width="2.0" />
<line x1="1761.8" y1="1163.3" x2="1767.2" y2="1176.7" stroke="#aadd21" stroke-width="2.0" />
<line x1="1767.2" y1="1176.7" x2="1772.5" y2="1178.1" stroke="#aadd21" stroke-width="2.0" />
<line x1="1772.5" y1="1178.1" x2="1778.3" y2="1185.7" stroke="#aadd21" stroke-width="2.0" />
<line x1="1778.3" y1="1185.7" x2="1783.7" y2="1185.7" stroke="#abde22" stroke-width="2.0" />
<line x1="1783.7" y1="1185.7" x2="1789.1" y2="1192.4" stroke="#abde22" stroke-width="2.0" />
<line x1="1789.1" y1="1192.4" x2="1794.9" y2="1194.6" stroke="#abde22" stroke-width="2.0" />
<line x1="1794.9" y1="1194.6" x2="1800.2" y2="1194.6" stroke="#abde22" stroke-width="2.0" />
<line x1="1800.2" y1="1194.6" x2="1806.0" y2="1199.1" stroke="#abde22" stroke-width="2.0" />
<line x1="1806.0" y1="1199.1" x2="1811.4" y2="1204.9" stroke="#acde22" stroke-width="2.0" />
<line x1="1811.4" y1="1204.9" x2="1816.8" y2="1201.3" stroke="#acde22" stroke-width="2.0" />
<line x1="1816.8" y1="1201.3" x2="1822.6" y2="1203.6" stroke="#acdf23" stroke-width="2.0" />
<line x1="1822.6" y1="1203.6" x2="1827.9" y2="1206.7" stroke="#acdf23" stroke-width="2.0" />
<line x1="1827.9" y1="1206.7" x2="1833.7" y2="1210.3" stroke="#acdf23" stroke-width="2.0" />
<line x1="1833.7" y1="1210.3" x2="1839.1" y2="1209.4" stroke="#addf23" stroke-width="2.0" />
<line x1="1839.1" y1="1209.4" x2="1844.5" y2="1217.0" stroke="#addf23" stroke-width="2.0" />
<line x1="1844.5" y1="1217.0" x2="1850.3" y2="1218.3" stroke="#addf23" stroke-width="2.0" />
<line x1="1850.3" y1="1218.3" x2="1855.6" y2="1221.4" stroke="#addf23" stroke-width="2.0" />
<line x1="1855.6" y1="1221.4" x2="1861.0" y2="1216.1" stroke="#aee024" stroke-width="2.0" />
<line x1="1861.0" y1="1216.1" x2="1866.8" y2="1224.6" stroke="#aee024" stroke-width="2.0" />
<line x1="1866.8" y1="1224.6" x2="1872.2" y2="1221.4" stroke="#aee024" stroke-width="2.0" />
<line x1="1872.2" y1="1221.4" x2="1878.0" y2="1229.0" stroke="#aee024" stroke-width="2.0" />
<line x1="1878.0" y1="1229.0" x2="1883.3" y2="1232.6" stroke="#aee024" stroke-width="2.0" />
<line x1="1883.3" y1="1232.6" x2="1888.7" y2="1236.2" stroke="#afe024" stroke-width="2.0" />
<line x1="1888.7" y1="1236.2" x2="1894.5" y2="1238.0" stroke="#afe024" stroke-width="2.0" />
<line x1="1894.5" y1="1238.0" x2="1899.9" y2="1230.4" stroke="#afe024" stroke-width="2.0" />
<line x1="1899.9" y1="1230.4" x2="1905.2" y2="1237.1" stroke="#afe125" stroke-width="2.0" />
<line x1="1905.2" y1="1237.1" x2="1911.0" y2="1237.1" stroke="#afe125" stroke-width="2.0" />
<line x1="1911.0" y1="1237.1" x2="1916.4" y2="1246.9" stroke="#b0e125" stroke-width="2.0" />
<line x1="1916.4" y1="1246.9" x2="1921.8" y2="1239.3" stroke="#b0e125" stroke-width="2.0" />
<line x1="1921.8" y1="1239.3" x2="1927.6" y2="1225.0" stroke="#b0e125" stroke-width="2.0" />
<line x1="1927.6" y1="1225.0" x2="1932.9" y2="1232.6" stroke="#b0e125" stroke-width="2.0" />
<line x1="1932.9" y1="1232.6" x2="1938.7" y2="1241.5" stroke="#b0e125" stroke-width="2.0" />
<line x1="1938.7" y1="1241.5" x2="1944.1" y2="1253.6" stroke="#b1e226" stroke-width="2.0" />
<line x1="1944.1" y1="1253.6" x2="1949.5" y2="1245.1" stroke="#b1e226" stroke-width="2.0" />
<line x1="1949.5" y1="1245.1" x2="1955.3" y2="1243.8" stroke="#b1e226" stroke-width="2.0" />
<line x1="1955.3" y1="1243.8" x2="1960.6" y2="1236.2" stroke="#b1e226" stroke-width="2.0" />
<line x1="1960.6" y1="1236.2" x2="1966.0" y2="1251.8" stroke="#b1e226" stroke-width="2.0" />
<line x1="1966.0" y1="1251.8" x2="1971.8" y2="1256.3" stroke="#b2e226" stroke-width="2.0" />
<line x1="1971.8" y1="1256.3" x2="1977.2" y2="1246.9" stroke="#b2e226" stroke-width="2.0" />
<line x1="1977.2" y1="1246.9" x2="1982.5" y2="1249.1" stroke="#b2e327" stroke-width="2.0" />
<line x1="1982.5" y1="1249.1" x2="1988.3" y2="1258.5" stroke="#b2e327" stroke-width="2.0" />
<line x1="1988.3" y1="1258.5" x2="1993.7" y2="1240.2" stroke="#b2e327" stroke-width="2.0" />
<line x1="1993.7" y1="1240.2" x2="1999.5" y2="1225.0" stroke="#b3e327" stroke-width="2.0" />
<line x1="1999.5" y1="1225.0" x2="2004.9" y2="1232.6" stroke="#b3e327" stroke-width="2.0" />
<line x1="2004.9" y1="1232.6" x2="2010.2" y2="1246.0" stroke="#b3e327" stroke-width="2.0" />
<line x1="2010.2" y1="1246.0" x2="2016.1" y2="1253.6" stroke="#b3e327" stroke-width="2.0" />
<circle cx="1695.2" cy="1146.8" r="4.7" fill="#fff" stroke="#b8ee3a" stroke-width="1.3"/>
<circle cx="1701.0" cy="1145.5" r="4.7" fill="#fff" stroke="#b8ee3a" stroke-width="1.3"/>
<circle cx="1706.4" cy="1151.3" r="4.7" fill="#fff" stroke="#b8ee3a" stroke-width="1.3"/>
<circle cx="1711.7" cy="1150.4" r="4.7" fill="#fff" stroke="#b8ee3a" stroke-width="1.3"/>
<circle cx="1717.6" cy="1147.7" r="4.7" fill="#fff" stroke="#b8ee3a" stroke-width="1.3"/>
<circle cx="1722.9" cy="1145.9" r="4.7" fill="#fff" stroke="#b9ee3b" stroke-width="1.3"/>
<circle cx="1728.7" cy="1145.9" r="4.7" fill="#fff" stroke="#b9ee3b" stroke-width="1.3"/>
<circle cx="1734.1" cy="1144.6" r="4.7" fill="#fff" stroke="#b9ee3b" stroke-width="1.3"/>
<circle cx="1739.5" cy="1147.7" r="4.7" fill="#fff" stroke="#b9ee3b" stroke-width="1.3"/>
<circle cx="1745.3" cy="1152.2" r="4.7" fill="#fff" stroke="#b9ee3c" stroke-width="1.3"/>
<circle cx="1750.6" cy="1163.3" r="4.7" fill="#fff" stroke="#baee3c" stroke-width="1.3"/>
<circle cx="1756.0" cy="1161.1" r="4.7" fill="#fff" stroke="#baee3c" stroke-width="1.3"/>
<circle cx="1761.8" cy="1163.3" r="4.7" fill="#fff" stroke="#baee3c" stroke-width="1.3"/>
<circle cx="1767.2" cy="1176.7" r="4.7" fill="#fff" stroke="#baee3d" stroke-width="1.3"/>
<circle cx="1772.5" cy="1178.1" r="4.7" fill="#fff" stroke="#baee3d" stroke-width="1.3"/>
<circle cx="1778.3" cy="1185.7" r="4.7" fill="#fff" stroke="#bbef3d" stroke-width="1.3"/>
<circle cx="1783.7" cy="1185.7" r="4.7" fill="#fff" stroke="#bbef3d" stroke-width="1.3"/>
<circle cx="1789.1" cy="1192.4" r="4.7" fill="#fff" stroke="#bbef3e" stroke-width="1.3"/>
<circle cx="1794.9" cy="1194.6" r="4.7" fill="#fff" stroke="#bbef3e" stroke-width="1.3"/>
<circle cx="1800.2" cy="1194.6" r="4.7" fill="#fff" stroke="#bbef3e" stroke-width="1.3"/>
<circle cx="1806.0" cy="1199.1" r="4.7" fill="#fff" stroke="#bcef3e" stroke-width="1.3"/>
<circle cx="1811.4" cy="1204.9" r="4.7" fill="#fff" stroke="#bcef3f" stroke-width="1.3"/>
<circle cx="1816.8" cy="1201.3" r="4.7" fill="#fff" stroke="#bcef3f" stroke-width="1.3"/>
<circle cx="1822.6" cy="1203.6" r="4.7" fill="#fff" stroke="#bcef3f" stroke-width="1.3"/>
<circle cx="1827.9" cy="1206.7" r="4.7" fill="#fff" stroke="#bcef3f" stroke-width="1.3"/>
<circle cx="1833.7" cy="1210.3" r="4.7" fill="#fff" stroke="#bdef40" stroke-width="1.3"/>
<circle cx="1839.1" cy="1209.4" r="4.7" fill="#fff" stroke="#bdef40" stroke-width="1.3"/>
<circle cx="1844.5" cy="1217.0" r="4.7" fill="#fff" stroke="#bdef40" stroke-width="1.3"/>
<circle cx="1850.3" cy="1218.3" r="4.7" fill="#fff" stroke="#bdef40" stroke-width="1.3"/>
<circle cx="1855.6" cy="1221.4" r="4.7" fill="#fff" stroke="#bef041" stroke-width="1.3"/>
<circle cx="1861.0" cy="1216.1" r="4.7" fill="#fff" stroke="#bef041" stroke-width="1.3"/>
<circle cx="1866.8" cy="1224.6" r="4.7" fill="#fff" stroke="#bef041" stroke-width="1.3"/>
<circle cx="1872.2" cy="1221.4" r="4.7" fill="#fff" stroke="#bef041" stroke-width="1.3"/>
<circle cx="1878.0" cy="1229.0" r="4.7" fill="#fff" stroke="#bef041" stroke-width="1.3"/>
<circle cx="1883.3" cy="1232.6" r="4.7" fill="#fff" stroke="#bff042" stroke-width="1.3"/>
<circle cx="1888.7" cy="1236.2" r="4.7" fill="#fff" stroke="#bff042" stroke-width="1.3"/>
<circle cx="1894.5" cy="1238.0" r="4.7" fill="#fff" stroke="#bff042" stroke-width="1.3"/>
<circle cx="1899.9" cy="1230.4" r="4.7" fill="#fff" stroke="#bff042" stroke-width="1.3"/>
<circle cx="1905.2" cy="1237.1" r="4.7" fill="#fff" stroke="#bff043" stroke-width="1.3"/>
<circle cx="1911.0" cy="1237.1" r="4.7" fill="#fff" stroke="#c0f043" stroke-width="1.3"/>
<circle cx="1916.4" cy="1246.9" r="4.7" fill="#fff" stroke="#c0f043" stroke-width="1.3"/>
<circle cx="1921.8" cy="1239.3" r="4.7" fill="#fff" stroke="#c0f043" stroke-width="1.3"/>
<circle cx="1927.6" cy="1225.0" r="4.7" fill="#fff" stroke="#c0f044" stroke-width="1.3"/>
<circle cx="1932.9" cy="1232.6" r="4.7" fill="#fff" stroke="#c0f044" stroke-width="1.3"/>
<circle cx="1938.7" cy="1241.5" r="4.7" fill="#fff" stroke="#c1f144" stroke-width="1.3"/>
<circle cx="1944.1" cy="1253.6" r="4.7" fill="#fff" stroke="#c1f144" stroke-width="1.3"/>
<circle cx="1949.5" cy="1245.1" r="4.7" fill="#fff" stroke="#c1f145" stroke-width="1.3"/>
<circle cx="1955.3" cy="1243.8" r="4.7" fill="#fff" stroke="#c1f145" stroke-width="1.3"/>
<circle cx="1960.6" cy="1236.2" r="4.7" fill="#fff" stroke="#c1f145" stroke-width="1.3"/>
<circle cx="1966.0" cy="1251.8" r="4.7" fill="#fff" stroke="#c2f145" stroke-width="1.3"/>
<circle cx="1971.8" cy="1256.3" r="4.7" fill="#fff" stroke="#c2f146" stroke-width="1.3"/>
<circle cx="1977.2" cy="1246.9" r="4.7" fill="#fff" stroke="#c2f146" stroke-width="1.3"/>
<circle cx="1982.5" cy="1249.1" r="4.7" fill="#fff" stroke="#c2f146" stroke-width="1.3"/>
<circle cx="1988.3" cy="1258.5" r="4.7" fill="#fff" stroke="#c2f146" stroke-width="1.3"/>
<circle cx="1993.7" cy="1240.2" r="4.7" fill="#fff" stroke="#c3f147" stroke-width="1.3"/>
<circle cx="1999.5" cy="1225.0" r="4.7" fill="#fff" stroke="#c3f147" stroke-width="1.3"/>
<circle cx="2004.9" cy="1232.6" r="4.7" fill="#fff" stroke="#c3f147" stroke-width="1.3"/>
<circle cx="2010.2" cy="1246.0" r="4.7" fill="#fff" stroke="#c3f147" stroke-width="1.3"/>
<circle cx="2016.1" cy="1253.6" r="4.7" fill="#fff" stroke="#c4f248" stroke-width="1.3"/>
<line x1="1309.1" y1="823.7" x2="1314.5" y2="928.7" stroke="#2038a0" stroke-width="2.0" />
<line x1="1314.5" y1="928.7" x2="1319.9" y2="952.0" stroke="#2038a0" stroke-width="2.0" />
<line x1="1319.9" y1="952.0" x2="1325.7" y2="848.3" stroke="#2139a0" stroke-width="2.0" />
<line x1="1325.7" y1="848.3" x2="1331.0" y2="833.6" stroke="#2239a0" stroke-width="2.0" />
<line x1="1331.0" y1="833.6" x2="1336.4" y2="788.9" stroke="#233aa0" stroke-width="2.0" />
<line x1="1336.4" y1="788.9" x2="1342.2" y2="782.2" stroke="#243ba0" stroke-width="2.0" />
<line x1="1342.2" y1="782.2" x2="1347.6" y2="788.0" stroke="#253ba0" stroke-width="2.0" />
<line x1="1347.6" y1="788.0" x2="1353.4" y2="886.3" stroke="#263ca0" stroke-width="2.0" />
<line x1="1353.4" y1="886.3" x2="1358.7" y2="956.4" stroke="#263ca0" stroke-width="2.0" />
<line x1="1358.7" y1="956.4" x2="1364.1" y2="992.2" stroke="#273da0" stroke-width="2.0" />
<line x1="1364.1" y1="992.2" x2="1369.5" y2="1003.4" stroke="#283ea0" stroke-width="2.0" />
<line x1="1369.5" y1="1003.4" x2="1374.8" y2="1005.6" stroke="#293ea0" stroke-width="2.0" />
<line x1="1374.8" y1="1005.6" x2="1380.6" y2="1020.3" stroke="#2a3fa0" stroke-width="2.0" />
<line x1="1380.6" y1="1020.3" x2="1386.0" y2="1030.2" stroke="#2b3fa0" stroke-width="2.0" />
<line x1="1386.0" y1="1030.2" x2="1391.4" y2="1026.2" stroke="#2c40a0" stroke-width="2.0" />
<line x1="1391.4" y1="1026.2" x2="1397.2" y2="1027.5" stroke="#2d41a0" stroke-width="2.0" />
<line x1="1397.2" y1="1027.5" x2="1402.5" y2="1019.4" stroke="#2d41a0" stroke-width="2.0" />
<line x1="1402.5" y1="1019.4" x2="1408.3" y2="1019.4" stroke="#2e42a0" stroke-width="2.0" />
<line x1="1408.3" y1="1019.4" x2="1413.7" y2="1029.7" stroke="#2f42a0" stroke-width="2.0" />
<line x1="1413.7" y1="1029.7" x2="1419.1" y2="1048.0" stroke="#3043a0" stroke-width="2.0" />
<line x1="1419.1" y1="1048.0" x2="1424.9" y2="1067.3" stroke="#3144a0" stroke-width="2.0" />
<line x1="1424.9" y1="1067.3" x2="1430.2" y2="1086.0" stroke="#3244a0" stroke-width="2.0" />
<line x1="1430.2" y1="1086.0" x2="1435.6" y2="1101.2" stroke="#3345a0" stroke-width="2.0" />
<line x1="1435.6" y1="1101.2" x2="1441.4" y2="1110.2" stroke="#3345a0" stroke-width="2.0" />
<line x1="1441.4" y1="1110.2" x2="1446.8" y2="1116.4" stroke="#3446a0" stroke-width="2.0" />
<line x1="1446.8" y1="1116.4" x2="1452.1" y2="1119.1" stroke="#3547a0" stroke-width="2.0" />
<line x1="1452.1" y1="1119.1" x2="1457.5" y2="1121.8" stroke="#3647a0" stroke-width="2.0" />
<line x1="1457.5" y1="1121.8" x2="1463.3" y2="1127.6" stroke="#3748a0" stroke-width="2.0" />
<line x1="1463.3" y1="1127.6" x2="1468.7" y2="1124.5" stroke="#3848a0" stroke-width="2.0" />
<line x1="1468.7" y1="1124.5" x2="1474.5" y2="1116.4" stroke="#3949a0" stroke-width="2.0" />
<circle cx="1309.1" cy="823.7" r="4.7" fill="#fff" stroke="#7a8cc8" stroke-width="1.3"/>
<circle cx="1314.5" cy="928.7" r="4.7" fill="#fff" stroke="#7a8cc8" stroke-width="1.3"/>
<circle cx="1319.9" cy="952.0" r="4.7" fill="#fff" stroke="#7b8cc8" stroke-width="1.3"/>
<circle cx="1325.7" cy="848.3" r="4.7" fill="#fff" stroke="#7b8cc8" stroke-width="1.3"/>
<circle cx="1331.0" cy="833.6" r="4.7" fill="#fff" stroke="#7c8dc8" stroke-width="1.3"/>
<circle cx="1336.4" cy="788.9" r="4.7" fill="#fff" stroke="#7c8dc8" stroke-width="1.3"/>
<circle cx="1342.2" cy="782.2" r="4.7" fill="#fff" stroke="#7d8dc8" stroke-width="1.3"/>
<circle cx="1347.6" cy="788.0" r="4.7" fill="#fff" stroke="#7d8dc8" stroke-width="1.3"/>
<circle cx="1353.4" cy="886.3" r="4.7" fill="#fff" stroke="#7e8ec8" stroke-width="1.3"/>
<circle cx="1358.7" cy="956.4" r="4.7" fill="#fff" stroke="#7e8ec8" stroke-width="1.3"/>
<circle cx="1364.1" cy="992.2" r="4.7" fill="#fff" stroke="#7f8ec8" stroke-width="1.3"/>
<circle cx="1369.5" cy="1003.4" r="4.7" fill="#fff" stroke="#7f8ec8" stroke-width="1.3"/>
<circle cx="1374.8" cy="1005.6" r="4.7" fill="#fff" stroke="#808fc8" stroke-width="1.3"/>
<circle cx="1380.6" cy="1020.3" r="4.7" fill="#fff" stroke="#808fc8" stroke-width="1.3"/>
<circle cx="1386.0" cy="1030.2" r="4.7" fill="#fff" stroke="#818fc8" stroke-width="1.3"/>
<circle cx="1391.4" cy="1026.2" r="4.7" fill="#fff" stroke="#8290c8" stroke-width="1.3"/>
<circle cx="1397.2" cy="1027.5" r="4.7" fill="#fff" stroke="#8290c8" stroke-width="1.3"/>
<circle cx="1402.5" cy="1019.4" r="4.7" fill="#fff" stroke="#8390c8" stroke-width="1.3"/>
<circle cx="1408.3" cy="1019.4" r="4.7" fill="#fff" stroke="#8390c8" stroke-width="1.3"/>
<circle cx="1413.7" cy="1029.7" r="4.7" fill="#fff" stroke="#8491c8" stroke-width="1.3"/>
<circle cx="1419.1" cy="1048.0" r="4.7" fill="#fff" stroke="#8491c8" stroke-width="1.3"/>
<circle cx="1424.9" cy="1067.3" r="4.7" fill="#fff" stroke="#8591c8" stroke-width="1.3"/>
<circle cx="1430.2" cy="1086.0" r="4.7" fill="#fff" stroke="#8591c8" stroke-width="1.3"/>
<circle cx="1435.6" cy="1101.2" r="4.7" fill="#fff" stroke="#8692c8" stroke-width="1.3"/>
<circle cx="1441.4" cy="1110.2" r="4.7" fill="#fff" stroke="#8692c8" stroke-width="1.3"/>
<circle cx="1446.8" cy="1116.4" r="4.7" fill="#fff" stroke="#8792c8" stroke-width="1.3"/>
<circle cx="1452.1" cy="1119.1" r="4.7" fill="#fff" stroke="#8792c8" stroke-width="1.3"/>
<circle cx="1457.5" cy="1121.8" r="4.7" fill="#fff" stroke="#8893c8" stroke-width="1.3"/>
<circle cx="1463.3" cy="1127.6" r="4.7" fill="#fff" stroke="#8893c8" stroke-width="1.3"/>
<circle cx="1468.7" cy="1124.5" r="4.7" fill="#fff" stroke="#8993c8" stroke-width="1.3"/>
<circle cx="1474.5" cy="1116.4" r="4.7" fill="#fff" stroke="#8a94c8" stroke-width="1.3"/>
<line x1="1474.5" y1="1089.6" x2="1479.8" y2="1093.2" stroke="#6a5a9c" stroke-width="2.0" />
<line x1="1479.8" y1="1093.2" x2="1485.2" y2="1090.9" stroke="#6a599b" stroke-width="2.0" />
<line x1="1485.2" y1="1090.9" x2="1491.0" y2="1081.6" stroke="#6b599b" stroke-width="2.0" />
<line x1="1491.0" y1="1081.6" x2="1496.4" y2="1080.7" stroke="#6b599a" stroke-width="2.0" />
<line x1="1496.4" y1="1080.7" x2="1501.7" y2="1061.5" stroke="#6c599a" stroke-width="2.0" />
<line x1="1501.7" y1="1061.5" x2="1507.5" y2="1053.9" stroke="#6c5999" stroke-width="2.0" />
<line x1="1507.5" y1="1053.9" x2="1512.9" y2="1045.8" stroke="#6d5999" stroke-width="2.0" />
<line x1="1512.9" y1="1045.8" x2="1518.3" y2="1036.4" stroke="#6e5999" stroke-width="2.0" />
<line x1="1518.3" y1="1036.4" x2="1524.1" y2="1039.6" stroke="#6e5998" stroke-width="2.0" />
<line x1="1524.1" y1="1039.6" x2="1529.4" y2="1036.0" stroke="#6f5998" stroke-width="2.0" />
<line x1="1529.4" y1="1036.0" x2="1535.2" y2="1031.5" stroke="#6f5997" stroke-width="2.0" />
<line x1="1535.2" y1="1031.5" x2="1540.6" y2="1030.6" stroke="#705997" stroke-width="2.0" />
<line x1="1540.6" y1="1030.6" x2="1546.0" y2="1024.8" stroke="#705996" stroke-width="2.0" />
<line x1="1546.0" y1="1024.8" x2="1551.8" y2="1020.3" stroke="#715996" stroke-width="2.0" />
<line x1="1551.8" y1="1020.3" x2="1557.1" y2="1010.1" stroke="#725996" stroke-width="2.0" />
<line x1="1557.1" y1="1010.1" x2="1562.5" y2="1007.8" stroke="#725995" stroke-width="2.0" />
<line x1="1562.5" y1="1007.8" x2="1568.3" y2="1007.4" stroke="#735995" stroke-width="2.0" />
<line x1="1568.3" y1="1007.4" x2="1573.7" y2="1007.8" stroke="#735994" stroke-width="2.0" />
<line x1="1573.7" y1="1007.8" x2="1579.0" y2="1009.2" stroke="#745994" stroke-width="2.0" />
<line x1="1579.0" y1="1009.2" x2="1584.8" y2="1016.8" stroke="#755994" stroke-width="2.0" />
<line x1="1584.8" y1="1016.8" x2="1590.2" y2="1013.6" stroke="#755893" stroke-width="2.0" />
<line x1="1590.2" y1="1013.6" x2="1596.0" y2="1008.3" stroke="#765893" stroke-width="2.0" />
<line x1="1596.0" y1="1008.3" x2="1601.4" y2="997.1" stroke="#765892" stroke-width="2.0" />
<line x1="1601.4" y1="997.1" x2="1606.7" y2="984.1" stroke="#775892" stroke-width="2.0" />
<line x1="1606.7" y1="984.1" x2="1612.5" y2="977.4" stroke="#775891" stroke-width="2.0" />
<line x1="1612.5" y1="977.4" x2="1617.9" y2="963.6" stroke="#785891" stroke-width="2.0" />
<line x1="1617.9" y1="963.6" x2="1623.3" y2="949.7" stroke="#795891" stroke-width="2.0" />
<line x1="1623.3" y1="949.7" x2="1629.1" y2="932.3" stroke="#795890" stroke-width="2.0" />
<line x1="1629.1" y1="932.3" x2="1634.4" y2="918.5" stroke="#7a5890" stroke-width="2.0" />
<line x1="1634.4" y1="918.5" x2="1640.3" y2="901.0" stroke="#7a588f" stroke-width="2.0" />
<line x1="1640.3" y1="901.0" x2="1645.6" y2="885.8" stroke="#7b588f" stroke-width="2.0" />
<line x1="1645.6" y1="885.8" x2="1651.0" y2="878.7" stroke="#7b588e" stroke-width="2.0" />
<line x1="1651.0" y1="878.7" x2="1656.8" y2="880.0" stroke="#7c588e" stroke-width="2.0" />
<line x1="1656.8" y1="880.0" x2="1662.1" y2="895.7" stroke="#7d588e" stroke-width="2.0" />
<line x1="1662.1" y1="895.7" x2="1667.5" y2="927.4" stroke="#7d588d" stroke-width="2.0" />
<line x1="1667.5" y1="927.4" x2="1673.3" y2="980.1" stroke="#7e588d" stroke-width="2.0" />
<line x1="1673.3" y1="980.1" x2="1678.7" y2="952.4" stroke="#7e588c" stroke-width="2.0" />
<line x1="1678.7" y1="952.4" x2="1684.5" y2="921.6" stroke="#7f588c" stroke-width="2.0" />
<circle cx="1474.5" cy="1089.6" r="4.7" fill="#fff" stroke="#b09cd8" stroke-width="1.3"/>
<circle cx="1479.8" cy="1093.2" r="4.7" fill="#fff" stroke="#b09cd7" stroke-width="1.3"/>
<circle cx="1485.2" cy="1090.9" r="4.7" fill="#fff" stroke="#b09cd7" stroke-width="1.3"/>
<circle cx="1491.0" cy="1081.6" r="4.7" fill="#fff" stroke="#b09cd7" stroke-width="1.3"/>
<circle cx="1496.4" cy="1080.7" r="4.7" fill="#fff" stroke="#b09cd6" stroke-width="1.3"/>
<circle cx="1501.7" cy="1061.5" r="4.7" fill="#fff" stroke="#b19cd6" stroke-width="1.3"/>
<circle cx="1507.5" cy="1053.9" r="4.7" fill="#fff" stroke="#b19cd6" stroke-width="1.3"/>
<circle cx="1512.9" cy="1045.8" r="4.7" fill="#fff" stroke="#b19cd5" stroke-width="1.3"/>
<circle cx="1518.3" cy="1036.4" r="4.7" fill="#fff" stroke="#b19cd5" stroke-width="1.3"/>
<circle cx="1524.1" cy="1039.6" r="4.7" fill="#fff" stroke="#b19cd5" stroke-width="1.3"/>
<circle cx="1529.4" cy="1036.0" r="4.7" fill="#fff" stroke="#b29cd4" stroke-width="1.3"/>
<circle cx="1535.2" cy="1031.5" r="4.7" fill="#fff" stroke="#b29cd4" stroke-width="1.3"/>
<circle cx="1540.6" cy="1030.6" r="4.7" fill="#fff" stroke="#b29cd4" stroke-width="1.3"/>
<circle cx="1546.0" cy="1024.8" r="4.7" fill="#fff" stroke="#b29cd3" stroke-width="1.3"/>
<circle cx="1551.8" cy="1020.3" r="4.7" fill="#fff" stroke="#b29cd3" stroke-width="1.3"/>
<circle cx="1557.1" cy="1010.1" r="4.7" fill="#fff" stroke="#b39cd3" stroke-width="1.3"/>
<circle cx="1562.5" cy="1007.8" r="4.7" fill="#fff" stroke="#b39cd2" stroke-width="1.3"/>
<circle cx="1568.3" cy="1007.4" r="4.7" fill="#fff" stroke="#b39cd2" stroke-width="1.3"/>
<circle cx="1573.7" cy="1007.8" r="4.7" fill="#fff" stroke="#b39cd2" stroke-width="1.3"/>
<circle cx="1579.0" cy="1009.2" r="4.7" fill="#fff" stroke="#b49cd2" stroke-width="1.3"/>
<circle cx="1584.8" cy="1016.8" r="4.7" fill="#fff" stroke="#b49cd1" stroke-width="1.3"/>
<circle cx="1590.2" cy="1013.6" r="4.7" fill="#fff" stroke="#b49cd1" stroke-width="1.3"/>
<circle cx="1596.0" cy="1008.3" r="4.7" fill="#fff" stroke="#b49cd1" stroke-width="1.3"/>
<circle cx="1601.4" cy="997.1" r="4.7" fill="#fff" stroke="#b49cd0" stroke-width="1.3"/>
<circle cx="1606.7" cy="984.1" r="4.7" fill="#fff" stroke="#b59cd0" stroke-width="1.3"/>
<circle cx="1612.5" cy="977.4" r="4.7" fill="#fff" stroke="#b59cd0" stroke-width="1.3"/>
<circle cx="1617.9" cy="963.6" r="4.7" fill="#fff" stroke="#b59ccf" stroke-width="1.3"/>
<circle cx="1623.3" cy="949.7" r="4.7" fill="#fff" stroke="#b59ccf" stroke-width="1.3"/>
<circle cx="1629.1" cy="932.3" r="4.7" fill="#fff" stroke="#b59ccf" stroke-width="1.3"/>
<circle cx="1634.4" cy="918.5" r="4.7" fill="#fff" stroke="#b69cce" stroke-width="1.3"/>
<circle cx="1640.3" cy="901.0" r="4.7" fill="#fff" stroke="#b69cce" stroke-width="1.3"/>
<circle cx="1645.6" cy="885.8" r="4.7" fill="#fff" stroke="#b69cce" stroke-width="1.3"/>
<circle cx="1651.0" cy="878.7" r="4.7" fill="#fff" stroke="#b69ccd" stroke-width="1.3"/>
<circle cx="1656.8" cy="880.0" r="4.7" fill="#fff" stroke="#b69ccd" stroke-width="1.3"/>
<circle cx="1662.1" cy="895.7" r="4.7" fill="#fff" stroke="#b79ccd" stroke-width="1.3"/>
<circle cx="1667.5" cy="927.4" r="4.7" fill="#fff" stroke="#b79ccc" stroke-width="1.3"/>
<circle cx="1673.3" cy="980.1" r="4.7" fill="#fff" stroke="#b79ccc" stroke-width="1.3"/>
<circle cx="1678.7" cy="952.4" r="4.7" fill="#fff" stroke="#b79ccc" stroke-width="1.3"/>
<circle cx="1684.5" cy="921.6" r="4.7" fill="#fff" stroke="#b89ccc" stroke-width="1.3"/>
<line x1="1695.2" y1="936.3" x2="1701.0" y2="928.7" stroke="#a04878" stroke-width="2.0" />
<line x1="1701.0" y1="928.7" x2="1706.4" y2="922.0" stroke="#a04777" stroke-width="2.0" />
<line x1="1706.4" y1="922.0" x2="1711.7" y2="917.6" stroke="#a04776" stroke-width="2.0" />
<line x1="1711.7" y1="917.6" x2="1717.6" y2="908.6" stroke="#a04675" stroke-width="2.0" />
<line x1="1717.6" y1="908.6" x2="1722.9" y2="899.7" stroke="#a04674" stroke-width="2.0" />
<line x1="1722.9" y1="899.7" x2="1728.7" y2="892.1" stroke="#a04573" stroke-width="2.0" />
<line x1="1728.7" y1="892.1" x2="1734.1" y2="888.5" stroke="#a04573" stroke-width="2.0" />
<line x1="1734.1" y1="888.5" x2="1739.5" y2="880.5" stroke="#a04572" stroke-width="2.0" />
<line x1="1739.5" y1="880.5" x2="1745.3" y2="872.9" stroke="#a04471" stroke-width="2.0" />
<line x1="1745.3" y1="872.9" x2="1750.6" y2="885.4" stroke="#a04470" stroke-width="2.0" />
<line x1="1750.6" y1="885.4" x2="1756.0" y2="886.3" stroke="#a0436f" stroke-width="2.0" />
<line x1="1756.0" y1="886.3" x2="1761.8" y2="888.5" stroke="#a0436e" stroke-width="2.0" />
<line x1="1761.8" y1="888.5" x2="1767.2" y2="893.9" stroke="#a0436e" stroke-width="2.0" />
<line x1="1767.2" y1="893.9" x2="1772.5" y2="897.5" stroke="#a0426d" stroke-width="2.0" />
<line x1="1772.5" y1="897.5" x2="1778.3" y2="897.5" stroke="#a0426c" stroke-width="2.0" />
<line x1="1778.3" y1="897.5" x2="1783.7" y2="901.0" stroke="#a0416b" stroke-width="2.0" />
<line x1="1783.7" y1="901.0" x2="1789.1" y2="899.7" stroke="#a0416a" stroke-width="2.0" />
<line x1="1789.1" y1="899.7" x2="1794.9" y2="901.0" stroke="#a04069" stroke-width="2.0" />
<line x1="1794.9" y1="901.0" x2="1800.2" y2="901.0" stroke="#a04069" stroke-width="2.0" />
<line x1="1800.2" y1="901.0" x2="1806.0" y2="897.5" stroke="#a04068" stroke-width="2.0" />
<line x1="1806.0" y1="897.5" x2="1811.4" y2="888.5" stroke="#a03f67" stroke-width="2.0" />
<line x1="1811.4" y1="888.5" x2="1816.8" y2="896.6" stroke="#a03f66" stroke-width="2.0" />
<line x1="1816.8" y1="896.6" x2="1822.6" y2="902.8" stroke="#a03e65" stroke-width="2.0" />
<line x1="1822.6" y1="902.8" x2="1827.9" y2="893.0" stroke="#a03e64" stroke-width="2.0" />
<line x1="1827.9" y1="893.0" x2="1833.7" y2="884.9" stroke="#a03e64" stroke-width="2.0" />
<line x1="1833.7" y1="884.9" x2="1839.1" y2="886.3" stroke="#a03d63" stroke-width="2.0" />
<line x1="1839.1" y1="886.3" x2="1844.5" y2="864.8" stroke="#a03d62" stroke-width="2.0" />
<line x1="1844.5" y1="864.8" x2="1850.3" y2="872.9" stroke="#a03c61" stroke-width="2.0" />
<line x1="1850.3" y1="872.9" x2="1855.6" y2="872.4" stroke="#a03c60" stroke-width="2.0" />
<line x1="1855.6" y1="872.4" x2="1861.0" y2="872.0" stroke="#a03c60" stroke-width="2.0" />
<line x1="1861.0" y1="872.0" x2="1866.8" y2="874.2" stroke="#a03b5f" stroke-width="2.0" />
<line x1="1866.8" y1="874.2" x2="1872.2" y2="880.5" stroke="#a03b5e" stroke-width="2.0" />
<line x1="1872.2" y1="880.5" x2="1878.0" y2="894.3" stroke="#a03a5d" stroke-width="2.0" />
<line x1="1878.0" y1="894.3" x2="1883.3" y2="901.0" stroke="#a03a5c" stroke-width="2.0" />
<line x1="1883.3" y1="901.0" x2="1888.7" y2="910.9" stroke="#a0395b" stroke-width="2.0" />
<line x1="1888.7" y1="910.9" x2="1894.5" y2="918.0" stroke="#a0395b" stroke-width="2.0" />
<line x1="1894.5" y1="918.0" x2="1899.9" y2="921.6" stroke="#a0395a" stroke-width="2.0" />
<line x1="1899.9" y1="921.6" x2="1905.2" y2="951.1" stroke="#a03859" stroke-width="2.0" />
<line x1="1905.2" y1="951.1" x2="1911.0" y2="955.5" stroke="#a03858" stroke-width="2.0" />
<line x1="1911.0" y1="955.5" x2="1916.4" y2="958.2" stroke="#a03757" stroke-width="2.0" />
<line x1="1916.4" y1="958.2" x2="1921.8" y2="981.5" stroke="#a03756" stroke-width="2.0" />
<line x1="1921.8" y1="981.5" x2="1927.6" y2="987.7" stroke="#a03756" stroke-width="2.0" />
<line x1="1927.6" y1="987.7" x2="1932.9" y2="991.3" stroke="#a03655" stroke-width="2.0" />
<line x1="1932.9" y1="991.3" x2="1938.7" y2="1006.9" stroke="#a03654" stroke-width="2.0" />
<line x1="1938.7" y1="1006.9" x2="1944.1" y2="1021.7" stroke="#a03553" stroke-width="2.0" />
<line x1="1944.1" y1="1021.7" x2="1949.5" y2="1027.0" stroke="#a03552" stroke-width="2.0" />
<line x1="1949.5" y1="1027.0" x2="1955.3" y2="1044.9" stroke="#a03451" stroke-width="2.0" />
<line x1="1955.3" y1="1044.9" x2="1960.6" y2="1059.7" stroke="#a03451" stroke-width="2.0" />
<line x1="1960.6" y1="1059.7" x2="1966.0" y2="1059.7" stroke="#a03450" stroke-width="2.0" />
<line x1="1966.0" y1="1059.7" x2="1971.8" y2="1069.9" stroke="#a0334f" stroke-width="2.0" />
<line x1="1971.8" y1="1069.9" x2="1977.2" y2="1080.7" stroke="#a0334e" stroke-width="2.0" />
<line x1="1977.2" y1="1080.7" x2="1982.5" y2="1095.0" stroke="#a0324d" stroke-width="2.0" />
<line x1="1982.5" y1="1095.0" x2="1988.3" y2="1103.0" stroke="#a0324c" stroke-width="2.0" />
<line x1="1988.3" y1="1103.0" x2="1993.7" y2="1098.5" stroke="#a0324c" stroke-width="2.0" />
<line x1="1993.7" y1="1098.5" x2="1999.5" y2="1095.0" stroke="#a0314b" stroke-width="2.0" />
<line x1="1999.5" y1="1095.0" x2="2004.9" y2="1117.3" stroke="#a0314a" stroke-width="2.0" />
<line x1="2004.9" y1="1117.3" x2="2010.2" y2="1087.4" stroke="#a03049" stroke-width="2.0" />
<line x1="2010.2" y1="1087.4" x2="2016.1" y2="1098.5" stroke="#a03048" stroke-width="2.0" />
<circle cx="1695.2" cy="936.3" r="4.7" fill="#fff" stroke="#d894c4" stroke-width="1.3"/>
<circle cx="1701.0" cy="928.7" r="4.7" fill="#fff" stroke="#d793c3" stroke-width="1.3"/>
<circle cx="1706.4" cy="922.0" r="4.7" fill="#fff" stroke="#d793c2" stroke-width="1.3"/>
<circle cx="1711.7" cy="917.6" r="4.7" fill="#fff" stroke="#d792c1" stroke-width="1.3"/>
<circle cx="1717.6" cy="908.6" r="4.7" fill="#fff" stroke="#d792c0" stroke-width="1.3"/>
<circle cx="1722.9" cy="899.7" r="4.7" fill="#fff" stroke="#d791c0" stroke-width="1.3"/>
<circle cx="1728.7" cy="892.1" r="4.7" fill="#fff" stroke="#d791bf" stroke-width="1.3"/>
<circle cx="1734.1" cy="888.5" r="4.7" fill="#fff" stroke="#d791be" stroke-width="1.3"/>
<circle cx="1739.5" cy="880.5" r="4.7" fill="#fff" stroke="#d790bd" stroke-width="1.3"/>
<circle cx="1745.3" cy="872.9" r="4.7" fill="#fff" stroke="#d790bd" stroke-width="1.3"/>
<circle cx="1750.6" cy="885.4" r="4.7" fill="#fff" stroke="#d78fbc" stroke-width="1.3"/>
<circle cx="1756.0" cy="886.3" r="4.7" fill="#fff" stroke="#d78fbb" stroke-width="1.3"/>
<circle cx="1761.8" cy="888.5" r="4.7" fill="#fff" stroke="#d78fba" stroke-width="1.3"/>
<circle cx="1767.2" cy="893.9" r="4.7" fill="#fff" stroke="#d78eba" stroke-width="1.3"/>
<circle cx="1772.5" cy="897.5" r="4.7" fill="#fff" stroke="#d78eb9" stroke-width="1.3"/>
<circle cx="1778.3" cy="897.5" r="4.7" fill="#fff" stroke="#d68db8" stroke-width="1.3"/>
<circle cx="1783.7" cy="901.0" r="4.7" fill="#fff" stroke="#d68db7" stroke-width="1.3"/>
<circle cx="1789.1" cy="899.7" r="4.7" fill="#fff" stroke="#d68cb7" stroke-width="1.3"/>
<circle cx="1794.9" cy="901.0" r="4.7" fill="#fff" stroke="#d68cb6" stroke-width="1.3"/>
<circle cx="1800.2" cy="901.0" r="4.7" fill="#fff" stroke="#d68cb5" stroke-width="1.3"/>
<circle cx="1806.0" cy="897.5" r="4.7" fill="#fff" stroke="#d68bb4" stroke-width="1.3"/>
<circle cx="1811.4" cy="888.5" r="4.7" fill="#fff" stroke="#d68bb4" stroke-width="1.3"/>
<circle cx="1816.8" cy="896.6" r="4.7" fill="#fff" stroke="#d68ab3" stroke-width="1.3"/>
<circle cx="1822.6" cy="902.8" r="4.7" fill="#fff" stroke="#d68ab2" stroke-width="1.3"/>
<circle cx="1827.9" cy="893.0" r="4.7" fill="#fff" stroke="#d68ab1" stroke-width="1.3"/>
<circle cx="1833.7" cy="884.9" r="4.7" fill="#fff" stroke="#d689b1" stroke-width="1.3"/>
<circle cx="1839.1" cy="886.3" r="4.7" fill="#fff" stroke="#d689b0" stroke-width="1.3"/>
<circle cx="1844.5" cy="864.8" r="4.7" fill="#fff" stroke="#d688af" stroke-width="1.3"/>
<circle cx="1850.3" cy="872.9" r="4.7" fill="#fff" stroke="#d688ae" stroke-width="1.3"/>
<circle cx="1855.6" cy="872.4" r="4.7" fill="#fff" stroke="#d688ae" stroke-width="1.3"/>
<circle cx="1861.0" cy="872.0" r="4.7" fill="#fff" stroke="#d587ad" stroke-width="1.3"/>
<circle cx="1866.8" cy="874.2" r="4.7" fill="#fff" stroke="#d587ac" stroke-width="1.3"/>
<circle cx="1872.2" cy="880.5" r="4.7" fill="#fff" stroke="#d586ab" stroke-width="1.3"/>
<circle cx="1878.0" cy="894.3" r="4.7" fill="#fff" stroke="#d586aa" stroke-width="1.3"/>
<circle cx="1883.3" cy="901.0" r="4.7" fill="#fff" stroke="#d585aa" stroke-width="1.3"/>
<circle cx="1888.7" cy="910.9" r="4.7" fill="#fff" stroke="#d585a9" stroke-width="1.3"/>
<circle cx="1894.5" cy="918.0" r="4.7" fill="#fff" stroke="#d585a8" stroke-width="1.3"/>
<circle cx="1899.9" cy="921.6" r="4.7" fill="#fff" stroke="#d584a7" stroke-width="1.3"/>
<circle cx="1905.2" cy="951.1" r="4.7" fill="#fff" stroke="#d584a7" stroke-width="1.3"/>
<circle cx="1911.0" cy="955.5" r="4.7" fill="#fff" stroke="#d583a6" stroke-width="1.3"/>
<circle cx="1916.4" cy="958.2" r="4.7" fill="#fff" stroke="#d583a5" stroke-width="1.3"/>
<circle cx="1921.8" cy="981.5" r="4.7" fill="#fff" stroke="#d583a4" stroke-width="1.3"/>
<circle cx="1927.6" cy="987.7" r="4.7" fill="#fff" stroke="#d582a4" stroke-width="1.3"/>
<circle cx="1932.9" cy="991.3" r="4.7" fill="#fff" stroke="#d582a3" stroke-width="1.3"/>
<circle cx="1938.7" cy="1006.9" r="4.7" fill="#fff" stroke="#d481a2" stroke-width="1.3"/>
<circle cx="1944.1" cy="1021.7" r="4.7" fill="#fff" stroke="#d481a1" stroke-width="1.3"/>
<circle cx="1949.5" cy="1027.0" r="4.7" fill="#fff" stroke="#d480a1" stroke-width="1.3"/>
<circle cx="1955.3" cy="1044.9" r="4.7" fill="#fff" stroke="#d480a0" stroke-width="1.3"/>
<circle cx="1960.6" cy="1059.7" r="4.7" fill="#fff" stroke="#d4809f" stroke-width="1.3"/>
<circle cx="1966.0" cy="1059.7" r="4.7" fill="#fff" stroke="#d47f9e" stroke-width="1.3"/>
<circle cx="1971.8" cy="1069.9" r="4.7" fill="#fff" stroke="#d47f9e" stroke-width="1.3"/>
<circle cx="1977.2" cy="1080.7" r="4.7" fill="#fff" stroke="#d47e9d" stroke-width="1.3"/>
<circle cx="1982.5" cy="1095.0" r="4.7" fill="#fff" stroke="#d47e9c" stroke-width="1.3"/>
<circle cx="1988.3" cy="1103.0" r="4.7" fill="#fff" stroke="#d47e9b" stroke-width="1.3"/>
<circle cx="1993.7" cy="1098.5" r="4.7" fill="#fff" stroke="#d47d9b" stroke-width="1.3"/>
<circle cx="1999.5" cy="1095.0" r="4.7" fill="#fff" stroke="#d47d9a" stroke-width="1.3"/>
<circle cx="2004.9" cy="1117.3" r="4.7" fill="#fff" stroke="#d47c99" stroke-width="1.3"/>
<circle cx="2010.2" cy="1087.4" r="4.7" fill="#fff" stroke="#d47c98" stroke-width="1.3"/>
<circle cx="2016.1" cy="1098.5" r="4.7" fill="#fff" stroke="#d47c98" stroke-width="1.3"/>
</g>
<line x1="1303.3" y1="771.0" x2="1303.3" y2="1263.9" stroke="#8c948e" stroke-width="1.4" />
<line x1="1303.3" y1="1263.9" x2="2020.5" y2="1263.9" stroke="#8c948e" stroke-width="1.4" />
<path d="M1303.3,1263.9 h-11 M1303.3,1154.7 h-11 M1303.3,1045.4 h-11 M1303.3,936.2 h-11 M1303.3,826.9 h-11 M1303.3,1263.9 v10 M1325.4,1263.9 v5 M1347.5,1263.9 v5 M1369.6,1263.9 v5 M1391.7,1263.9 v5 M1413.8,1263.9 v10 M1435.9,1263.9 v5 M1458.0,1263.9 v5 M1480.1,1263.9 v5 M1502.2,1263.9 v5 M1524.3,1263.9 v10 M1546.4,1263.9 v5 M1568.5,1263.9 v5 M1590.7,1263.9 v5 M1612.8,1263.9 v5 M1634.9,1263.9 v10 M1657.0,1263.9 v5 M1679.1,1263.9 v5 M1701.2,1263.9 v5 M1723.3,1263.9 v5 M1745.4,1263.9 v10 M1767.5,1263.9 v5 M1789.6,1263.9 v5 M1811.7,1263.9 v5 M1833.8,1263.9 v5 M1855.9,1263.9 v10 M1878.0,1263.9 v5 M1900.1,1263.9 v5 M1922.2,1263.9 v5 M1944.3,1263.9 v5 M1966.4,1263.9 v10 M1988.5,1263.9 v5 M2010.6,1263.9 v5" stroke="#8c948e" stroke-width="1.3" fill="none"/>
<text transform="translate(1281.0 1272.4) scale(1.070 1)" font-family="Liberation Sans" font-size="27.5" text-anchor="end" fill="#222" font-weight="normal" font-style="normal" >0.0</text>
<text transform="translate(1281.0 1163.2) scale(1.070 1)" font-family="Liberation Sans" font-size="27.5" text-anchor="end" fill="#222" font-weight="normal" font-style="normal" >0.1</text>
<text transform="translate(1281.0 1053.9) scale(1.070 1)" font-family="Liberation Sans" font-size="27.5" text-anchor="end" fill="#222" font-weight="normal" font-style="normal" >0.2</text>
<text transform="translate(1281.0 944.7) scale(1.070 1)" font-family="Liberation Sans" font-size="27.5" text-anchor="end" fill="#222" font-weight="normal" font-style="normal" >0.3</text>
<text transform="translate(1281.0 835.4) scale(1.070 1)" font-family="Liberation Sans" font-size="27.5" text-anchor="end" fill="#222" font-weight="normal" font-style="normal" >0.4</text>
<text transform="translate(1303.3 1305.5) scale(1.070 1)" font-family="Liberation Sans" font-size="27.5" text-anchor="middle" fill="#222" font-weight="normal" font-style="normal" >400</text>
<text transform="translate(1413.8 1305.5) scale(1.070 1)" font-family="Liberation Sans" font-size="27.5" text-anchor="middle" fill="#222" font-weight="normal" font-style="normal" >600</text>
<text transform="translate(1524.3 1305.5) scale(1.070 1)" font-family="Liberation Sans" font-size="27.5" text-anchor="middle" fill="#222" font-weight="normal" font-style="normal" >800</text>
<text transform="translate(1634.9 1305.5) scale(1.070 1)" font-family="Liberation Sans" font-size="27.5" text-anchor="middle" fill="#222" font-weight="normal" font-style="normal" >1,000</text>
<text transform="translate(1745.4 1305.5) scale(1.070 1)" font-family="Liberation Sans" font-size="27.5" text-anchor="middle" fill="#222" font-weight="normal" font-style="normal" >1,200</text>
<text transform="translate(1855.9 1305.5) scale(1.070 1)" font-family="Liberation Sans" font-size="27.5" text-anchor="middle" fill="#222" font-weight="normal" font-style="normal" >1,400</text>
<text transform="translate(1966.4 1305.5) scale(1.070 1)" font-family="Liberation Sans" font-size="27.5" text-anchor="middle" fill="#222" font-weight="normal" font-style="normal" >1,600</text>
<text transform="translate(1662.5 1346.5)" font-family="Liberation Sans" font-size="27.5" text-anchor="middle" fill="#222" font-weight="normal" font-style="normal" >Wavelength (nm)</text>
<text transform="translate(1225.0 1017.5) rotate(-90)" font-family="Liberation Sans" font-size="27.5" text-anchor="middle" fill="#222" font-weight="normal" font-style="normal" >Photoresponsivity (mA W<tspan font-size="17" dy="-10">−1</tspan><tspan dy="10">)</tspan></text>
<text transform="translate(1600.0 896.6)" font-family="Liberation Sans" font-size="29" text-anchor="start" fill="#7088a0" font-weight="normal" font-style="normal" >0°</text>
<text transform="translate(1793.0 1158.0)" font-family="Liberation Sans" font-size="29" text-anchor="start" fill="#2ee062" font-weight="normal" font-style="normal" >90°</text>
<text transform="translate(1197.0 806.0)" font-family="Liberation Serif" font-size="54" text-anchor="start" fill="#000" font-weight="bold" font-style="normal" >f</text>
</g>
</svg>
</body></html>
